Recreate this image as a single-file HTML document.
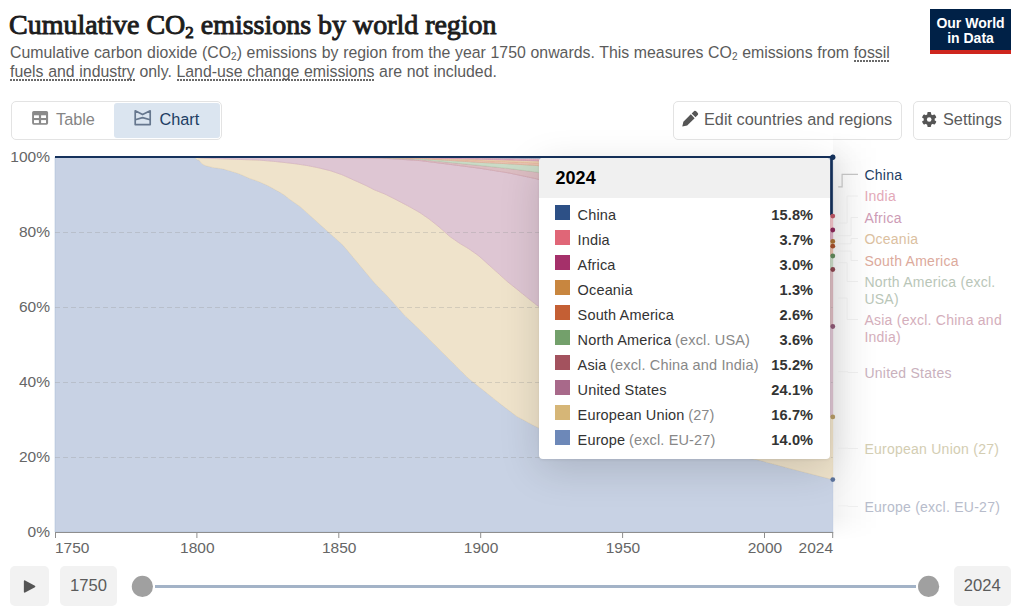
<!DOCTYPE html>
<html><head><meta charset="utf-8">
<style>
*{box-sizing:border-box;margin:0;padding:0}
html,body{width:1020px;height:614px;overflow:hidden;background:#fff}
body{position:relative;font-family:"Liberation Sans",sans-serif;color:#5b5b5b}
.abs{position:absolute;white-space:nowrap}
#title{left:9px;top:8px;font-family:"Liberation Serif",serif;font-weight:400;font-size:28px;line-height:34px;color:#1d1d1d;letter-spacing:-0.02px;-webkit-text-stroke:0.95px #1d1d1d}
#title sub{font-size:17px;vertical-align:-4px;line-height:0}
.sub{left:10px;font-size:15.85px;line-height:18px;color:#5b5b5b;word-spacing:0.3px}
.sub .s2{font-size:10px;vertical-align:-2px;line-height:0}
.dot{background-image:linear-gradient(to right,#6a6a6a 60%,transparent 60%);background-size:3px 2px;background-repeat:repeat-x;background-position:0 100%;padding-bottom:1px}
#logo{left:930px;top:9px;width:81px;height:45px;background:#002147;border-bottom:4px solid #ce261e;color:#fff;font-weight:700;font-size:14px;text-align:center}
#logo div{position:absolute;left:0;width:81px;line-height:15px}
.btn{border:1px solid #e3e3e3;border-radius:5px;background:#fff;height:39px;top:100.5px}
.btxt{font-size:16.3px;color:#5b5b5b;line-height:16px}
.ylab{font-size:15.5px;color:#666;text-align:right;width:50px;left:0px;line-height:16px}
.xlab{font-size:15.5px;color:#666;line-height:16px;width:60px;text-align:center}
#tip{left:539px;top:158.3px;width:291px;height:301px;background:#fff;border-radius:4px;box-shadow:0 10px 40px rgba(0,0,0,0.15),0 1px 3px rgba(0,0,0,0.07);overflow:hidden}
#tiphead{position:absolute;left:0;top:0;width:291px;height:40px;background:#f0f0f0}
.row{position:absolute;left:0;width:291px;height:25px}
.sw{position:absolute;left:16px;top:48px;width:14.6px;height:14.4px}
.nm{position:absolute;left:38.6px;font-size:14.5px;color:#333;line-height:14px;letter-spacing:0.15px}
.nm i{font-style:normal;color:#888;margin-left:-0.5px}
.vl{position:absolute;right:16.8px;font-size:14.6px;font-weight:700;color:#333;line-height:14px;letter-spacing:0.1px}
.lg{left:864.4px;font-size:14px;line-height:17px;letter-spacing:0.25px}
.box{background:#f2f2f2;border-radius:5px}
</style></head><body>
<div class="abs" id="title">Cumulative CO<sub>2</sub> emissions by world region</div>
<div class="abs sub" style="top:44px">Cumulative carbon dioxide (CO<span class="s2">2</span>) emissions by region from the year 1750 onwards. This measures CO<span class="s2">2</span> emissions from <span class="dot">fossil</span></div>
<div class="abs sub" style="top:62.5px"><span class="dot">fuels and industry</span> only. <span class="dot">Land-use change emissions</span> are not included.</div>
<div class="abs" id="logo"><div style="top:6.5px">Our World</div><div style="top:21.5px">in Data</div></div>

<!-- tabs -->
<div class="abs btn" style="left:10.5px;width:211px"></div>
<div class="abs" style="left:114px;top:102.5px;width:106px;height:35px;background:#dbe5f0;border-radius:3px"></div>

<div class="abs btxt" style="left:56px;top:111.2px;color:#858585">Table</div>
<div class="abs btxt" style="left:159.5px;top:111.2px;color:#1d3d63">Chart</div>
<div class="abs btn" style="left:672.5px;width:229.5px"></div>
<div class="abs btxt" style="left:704px;top:111.2px">Edit countries and regions</div>
<div class="abs btn" style="left:912.5px;width:98px"></div>
<div class="abs btxt" style="left:943px;top:111.2px">Settings</div>
<svg class="abs" style="left:0;top:0" width="1020" height="150">
 <rect x="32.1" y="111.1" width="16" height="13.6" rx="1.6" fill="#8a8a8a"/>
 <g fill="#fff"><rect x="34" y="115.3" width="4.9" height="2.7"/><rect x="41.1" y="115.3" width="4.9" height="2.7"/><rect x="34" y="120.1" width="4.9" height="3"/><rect x="41.1" y="120.1" width="4.9" height="3"/></g>
 <g fill="none" stroke="#66778e" stroke-width="1.7" stroke-linejoin="round">
  <path d="M135.2,110.8 L142.6,114.6 L150.2,110.8 L150.2,124.6 L135.2,124.6 Z"/>
  <path d="M135.2,119.8 L142.6,117.6 L150.2,119.8"/>
 </g>
 <!-- pencil -->
 <path d="M682.30,126.60 L687.18,125.56 L694.63,118.16 L690.83,114.33 L683.38,121.72 Z" fill="#555"/>
 <path d="M695.48,117.31 L697.98,114.83 Q698.90,113.92 697.00,112.00 Q695.10,110.08 694.17,111.00 L691.68,113.48 Z" fill="#555"/>
 <!-- gear -->
 <g transform="translate(929.2,119.5)" fill="#555">
  <circle r="5.5"/>
  <g id="teeth"><rect x="-1.9" y="-7.4" width="3.8" height="4" rx="0.9"/></g>
  <use href="#teeth" transform="rotate(60)"/><use href="#teeth" transform="rotate(120)"/>
  <use href="#teeth" transform="rotate(180)"/><use href="#teeth" transform="rotate(240)"/><use href="#teeth" transform="rotate(300)"/>
  <circle r="2.3" fill="#fff"/>
 </g>
</svg>

<div class="abs" style="left:833px;top:132px;width:45px;height:408px;background:linear-gradient(to right,rgba(0,0,0,0.055),rgba(0,0,0,0.02) 45%,rgba(0,0,0,0));-webkit-mask-image:linear-gradient(to bottom,transparent,#000 8%,#000 94%,transparent)"></div>
<!-- chart -->
<svg class="abs" style="left:0;top:0" width="1020" height="614">
<path d="M55.0,157.00 L56.9,157.00 L58.9,157.01 L60.8,157.01 L62.8,157.01 L64.7,157.01 L66.7,157.02 L68.6,157.02 L70.6,157.02 L72.5,157.03 L74.5,157.03 L76.4,157.03 L78.4,157.03 L80.3,157.04 L82.3,157.04 L84.2,157.04 L86.2,157.04 L88.1,157.05 L90.1,157.05 L92.0,157.05 L94.0,157.06 L95.9,157.06 L97.9,157.06 L99.8,157.06 L101.8,157.07 L103.7,157.07 L105.7,157.07 L107.6,157.08 L109.6,157.08 L111.5,157.08 L113.5,157.08 L115.4,157.09 L117.4,157.09 L119.3,157.09 L121.3,157.09 L123.2,157.10 L125.2,157.10 L127.1,157.10 L129.1,157.11 L131.0,157.11 L133.0,157.11 L134.9,157.11 L136.9,157.12 L138.8,157.12 L140.8,157.12 L142.7,157.13 L144.7,157.13 L146.6,157.13 L148.6,157.13 L150.5,157.14 L152.5,157.14 L154.4,157.14 L156.4,157.14 L158.3,157.15 L160.3,157.15 L162.2,157.15 L164.2,157.16 L166.1,157.16 L168.0,157.16 L170.0,157.16 L171.9,157.17 L173.9,157.17 L175.8,157.17 L177.8,157.18 L179.7,157.18 L181.7,157.18 L183.6,157.18 L185.6,157.19 L187.5,157.19 L189.5,157.19 L191.4,157.19 L193.4,157.20 L195.3,157.94 L197.3,159.72 L199.2,160.21 L201.2,162.91 L203.1,164.43 L205.1,165.48 L207.0,166.05 L209.0,166.49 L210.9,166.93 L212.9,167.38 L214.8,167.77 L216.8,168.01 L218.7,168.26 L220.7,168.51 L222.6,168.82 L224.6,169.36 L226.5,169.91 L228.5,170.45 L230.4,171.04 L232.4,171.63 L234.3,172.23 L236.3,172.83 L238.2,173.42 L240.2,174.21 L242.1,175.09 L244.1,175.96 L246.0,176.84 L248.0,177.71 L249.9,178.46 L251.9,179.13 L253.8,179.81 L255.8,180.48 L257.7,181.16 L259.7,181.96 L261.6,182.84 L263.6,183.72 L265.5,184.59 L267.5,185.47 L269.4,186.46 L271.4,187.54 L273.3,188.61 L275.3,189.69 L277.2,190.76 L279.1,191.87 L281.1,193.00 L283.0,194.14 L285.0,195.57 L286.9,197.10 L288.9,198.63 L290.8,200.09 L292.8,201.45 L294.7,202.81 L296.7,204.17 L298.6,205.53 L300.6,206.89 L302.5,208.66 L304.5,210.42 L306.4,212.19 L308.4,213.95 L310.3,215.72 L312.3,217.48 L314.2,219.24 L316.2,221.01 L318.1,222.77 L320.1,224.53 L322.0,226.30 L324.0,228.04 L325.9,229.79 L327.9,231.54 L329.8,233.28 L331.8,235.03 L333.7,236.78 L335.7,238.52 L337.6,240.27 L339.6,242.02 L341.5,243.76 L343.5,245.68 L345.4,248.02 L347.4,250.35 L349.3,252.69 L351.3,255.02 L353.2,257.36 L355.2,259.69 L357.1,262.03 L359.1,264.37 L361.0,266.70 L363.0,269.04 L364.9,271.37 L366.9,273.71 L368.8,276.04 L370.8,278.38 L372.7,280.71 L374.7,283.05 L376.6,285.02 L378.6,286.99 L380.5,288.96 L382.5,290.93 L384.4,292.89 L386.4,294.96 L388.3,297.09 L390.2,299.23 L392.2,301.36 L394.1,303.49 L396.1,305.63 L398.0,307.84 L400.0,310.04 L401.9,312.24 L403.9,314.44 L405.8,316.38 L407.8,318.25 L409.7,320.12 L411.7,321.99 L413.6,323.85 L415.6,325.72 L417.5,327.59 L419.5,329.49 L421.4,331.44 L423.4,333.38 L425.3,335.33 L427.3,337.28 L429.2,339.23 L431.2,341.18 L433.1,343.13 L435.1,345.08 L437.0,347.03 L439.0,348.98 L440.9,350.93 L442.9,352.88 L444.8,354.82 L446.8,356.77 L448.7,358.72 L450.7,360.67 L452.6,362.62 L454.6,364.57 L456.5,366.52 L458.5,368.47 L460.4,370.42 L462.4,372.37 L464.3,374.32 L466.3,376.26 L468.2,378.11 L470.2,379.66 L472.1,381.22 L474.1,382.77 L476.0,384.33 L478.0,385.88 L479.9,387.44 L481.9,388.99 L483.8,390.55 L485.8,392.11 L487.7,393.68 L489.7,395.24 L491.6,396.81 L493.6,398.38 L495.5,399.94 L497.5,401.51 L499.4,403.08 L501.3,404.60 L503.3,406.08 L505.2,407.56 L507.2,409.05 L509.1,410.53 L511.1,412.01 L513.0,413.49 L515.0,414.98 L516.9,416.38 L518.9,417.44 L520.8,418.49 L522.8,419.54 L524.7,420.59 L526.7,421.65 L528.6,422.70 L530.6,423.75 L532.5,424.80 L534.5,425.78 L536.4,426.74 L538.4,427.70 L540.3,428.38 L542.3,428.76 L544.2,429.14 L546.2,429.52 L548.1,429.90 L550.1,430.28 L552.0,430.66 L554.0,431.04 L555.9,431.42 L557.9,431.80 L559.8,432.18 L561.8,432.56 L563.7,432.94 L565.7,433.32 L567.6,433.69 L569.6,434.07 L571.5,434.45 L573.5,434.83 L575.4,435.21 L577.4,435.59 L579.3,435.97 L581.3,436.35 L583.2,436.73 L585.2,437.11 L587.1,437.49 L589.1,437.87 L591.0,438.25 L593.0,438.63 L594.9,439.01 L596.9,439.39 L598.8,439.77 L600.8,440.10 L602.7,440.36 L604.7,440.62 L606.6,440.88 L608.6,441.14 L610.5,441.40 L612.4,441.66 L614.4,441.92 L616.3,442.18 L618.3,442.44 L620.2,442.70 L622.2,442.96 L624.1,443.22 L626.1,443.48 L628.0,443.74 L630.0,444.00 L631.9,444.26 L633.9,444.52 L635.8,444.78 L637.8,445.04 L639.7,445.30 L641.7,445.56 L643.6,445.82 L645.6,446.08 L647.5,446.34 L649.5,446.60 L651.4,446.86 L653.4,447.12 L655.3,447.38 L657.3,447.64 L659.2,447.90 L661.2,448.13 L663.1,448.34 L665.1,448.56 L667.0,448.77 L669.0,448.99 L670.9,449.20 L672.9,449.42 L674.8,449.63 L676.8,449.84 L678.7,450.06 L680.7,450.27 L682.6,450.49 L684.6,450.70 L686.5,450.92 L688.5,451.13 L690.4,451.35 L692.4,451.56 L694.3,451.77 L696.3,451.99 L698.2,452.20 L700.2,452.42 L702.1,452.63 L704.1,452.85 L706.0,453.06 L708.0,453.28 L709.9,453.49 L711.9,453.74 L713.8,453.99 L715.8,454.25 L717.7,454.50 L719.7,454.75 L721.6,455.01 L723.5,455.26 L725.5,455.51 L727.4,455.76 L729.4,456.02 L731.3,456.27 L733.3,456.52 L735.2,456.78 L737.2,457.03 L739.1,457.28 L741.1,457.54 L743.0,457.79 L745.0,458.04 L746.9,458.29 L748.9,458.55 L750.8,458.80 L752.8,459.05 L754.7,459.31 L756.7,459.56 L758.6,460.04 L760.6,460.57 L762.5,461.09 L764.5,461.62 L766.4,462.14 L768.4,462.67 L770.3,463.19 L772.3,463.72 L774.2,464.24 L776.2,464.77 L778.1,465.29 L780.1,465.82 L782.0,466.34 L784.0,466.87 L785.9,467.39 L787.9,467.92 L789.8,468.44 L791.8,468.96 L793.7,469.46 L795.7,469.97 L797.6,470.48 L799.6,470.98 L801.5,471.49 L803.5,472.00 L805.4,472.50 L807.4,473.01 L809.3,473.52 L811.3,474.02 L813.2,474.53 L815.2,475.04 L817.1,475.55 L819.1,476.05 L821.0,476.56 L823.0,477.07 L824.9,477.57 L826.9,478.08 L828.8,478.59 L830.8,479.09 L832.7,479.60 L832.7,532.00 L830.8,532.00 L828.8,532.00 L826.9,532.00 L824.9,532.00 L823.0,532.00 L821.0,532.00 L819.1,532.00 L817.1,532.00 L815.2,532.00 L813.2,532.00 L811.3,532.00 L809.3,532.00 L807.4,532.00 L805.4,532.00 L803.5,532.00 L801.5,532.00 L799.6,532.00 L797.6,532.00 L795.7,532.00 L793.7,532.00 L791.8,532.00 L789.8,532.00 L787.9,532.00 L785.9,532.00 L784.0,532.00 L782.0,532.00 L780.1,532.00 L778.1,532.00 L776.2,532.00 L774.2,532.00 L772.3,532.00 L770.3,532.00 L768.4,532.00 L766.4,532.00 L764.5,532.00 L762.5,532.00 L760.6,532.00 L758.6,532.00 L756.7,532.00 L754.7,532.00 L752.8,532.00 L750.8,532.00 L748.9,532.00 L746.9,532.00 L745.0,532.00 L743.0,532.00 L741.1,532.00 L739.1,532.00 L737.2,532.00 L735.2,532.00 L733.3,532.00 L731.3,532.00 L729.4,532.00 L727.4,532.00 L725.5,532.00 L723.5,532.00 L721.6,532.00 L719.7,532.00 L717.7,532.00 L715.8,532.00 L713.8,532.00 L711.9,532.00 L709.9,532.00 L708.0,532.00 L706.0,532.00 L704.1,532.00 L702.1,532.00 L700.2,532.00 L698.2,532.00 L696.3,532.00 L694.3,532.00 L692.4,532.00 L690.4,532.00 L688.5,532.00 L686.5,532.00 L684.6,532.00 L682.6,532.00 L680.7,532.00 L678.7,532.00 L676.8,532.00 L674.8,532.00 L672.9,532.00 L670.9,532.00 L669.0,532.00 L667.0,532.00 L665.1,532.00 L663.1,532.00 L661.2,532.00 L659.2,532.00 L657.3,532.00 L655.3,532.00 L653.4,532.00 L651.4,532.00 L649.5,532.00 L647.5,532.00 L645.6,532.00 L643.6,532.00 L641.7,532.00 L639.7,532.00 L637.8,532.00 L635.8,532.00 L633.9,532.00 L631.9,532.00 L630.0,532.00 L628.0,532.00 L626.1,532.00 L624.1,532.00 L622.2,532.00 L620.2,532.00 L618.3,532.00 L616.3,532.00 L614.4,532.00 L612.4,532.00 L610.5,532.00 L608.6,532.00 L606.6,532.00 L604.7,532.00 L602.7,532.00 L600.8,532.00 L598.8,532.00 L596.9,532.00 L594.9,532.00 L593.0,532.00 L591.0,532.00 L589.1,532.00 L587.1,532.00 L585.2,532.00 L583.2,532.00 L581.3,532.00 L579.3,532.00 L577.4,532.00 L575.4,532.00 L573.5,532.00 L571.5,532.00 L569.6,532.00 L567.6,532.00 L565.7,532.00 L563.7,532.00 L561.8,532.00 L559.8,532.00 L557.9,532.00 L555.9,532.00 L554.0,532.00 L552.0,532.00 L550.1,532.00 L548.1,532.00 L546.2,532.00 L544.2,532.00 L542.3,532.00 L540.3,532.00 L538.4,532.00 L536.4,532.00 L534.5,532.00 L532.5,532.00 L530.6,532.00 L528.6,532.00 L526.7,532.00 L524.7,532.00 L522.8,532.00 L520.8,532.00 L518.9,532.00 L516.9,532.00 L515.0,532.00 L513.0,532.00 L511.1,532.00 L509.1,532.00 L507.2,532.00 L505.2,532.00 L503.3,532.00 L501.3,532.00 L499.4,532.00 L497.5,532.00 L495.5,532.00 L493.6,532.00 L491.6,532.00 L489.7,532.00 L487.7,532.00 L485.8,532.00 L483.8,532.00 L481.9,532.00 L479.9,532.00 L478.0,532.00 L476.0,532.00 L474.1,532.00 L472.1,532.00 L470.2,532.00 L468.2,532.00 L466.3,532.00 L464.3,532.00 L462.4,532.00 L460.4,532.00 L458.5,532.00 L456.5,532.00 L454.6,532.00 L452.6,532.00 L450.7,532.00 L448.7,532.00 L446.8,532.00 L444.8,532.00 L442.9,532.00 L440.9,532.00 L439.0,532.00 L437.0,532.00 L435.1,532.00 L433.1,532.00 L431.2,532.00 L429.2,532.00 L427.3,532.00 L425.3,532.00 L423.4,532.00 L421.4,532.00 L419.5,532.00 L417.5,532.00 L415.6,532.00 L413.6,532.00 L411.7,532.00 L409.7,532.00 L407.8,532.00 L405.8,532.00 L403.9,532.00 L401.9,532.00 L400.0,532.00 L398.0,532.00 L396.1,532.00 L394.1,532.00 L392.2,532.00 L390.2,532.00 L388.3,532.00 L386.4,532.00 L384.4,532.00 L382.5,532.00 L380.5,532.00 L378.6,532.00 L376.6,532.00 L374.7,532.00 L372.7,532.00 L370.8,532.00 L368.8,532.00 L366.9,532.00 L364.9,532.00 L363.0,532.00 L361.0,532.00 L359.1,532.00 L357.1,532.00 L355.2,532.00 L353.2,532.00 L351.3,532.00 L349.3,532.00 L347.4,532.00 L345.4,532.00 L343.5,532.00 L341.5,532.00 L339.6,532.00 L337.6,532.00 L335.7,532.00 L333.7,532.00 L331.8,532.00 L329.8,532.00 L327.9,532.00 L325.9,532.00 L324.0,532.00 L322.0,532.00 L320.1,532.00 L318.1,532.00 L316.2,532.00 L314.2,532.00 L312.3,532.00 L310.3,532.00 L308.4,532.00 L306.4,532.00 L304.5,532.00 L302.5,532.00 L300.6,532.00 L298.6,532.00 L296.7,532.00 L294.7,532.00 L292.8,532.00 L290.8,532.00 L288.9,532.00 L286.9,532.00 L285.0,532.00 L283.0,532.00 L281.1,532.00 L279.1,532.00 L277.2,532.00 L275.3,532.00 L273.3,532.00 L271.4,532.00 L269.4,532.00 L267.5,532.00 L265.5,532.00 L263.6,532.00 L261.6,532.00 L259.7,532.00 L257.7,532.00 L255.8,532.00 L253.8,532.00 L251.9,532.00 L249.9,532.00 L248.0,532.00 L246.0,532.00 L244.1,532.00 L242.1,532.00 L240.2,532.00 L238.2,532.00 L236.3,532.00 L234.3,532.00 L232.4,532.00 L230.4,532.00 L228.5,532.00 L226.5,532.00 L224.6,532.00 L222.6,532.00 L220.7,532.00 L218.7,532.00 L216.8,532.00 L214.8,532.00 L212.9,532.00 L210.9,532.00 L209.0,532.00 L207.0,532.00 L205.1,532.00 L203.1,532.00 L201.2,532.00 L199.2,532.00 L197.3,532.00 L195.3,532.00 L193.4,532.00 L191.4,532.00 L189.5,532.00 L187.5,532.00 L185.6,532.00 L183.6,532.00 L181.7,532.00 L179.7,532.00 L177.8,532.00 L175.8,532.00 L173.9,532.00 L171.9,532.00 L170.0,532.00 L168.0,532.00 L166.1,532.00 L164.2,532.00 L162.2,532.00 L160.3,532.00 L158.3,532.00 L156.4,532.00 L154.4,532.00 L152.5,532.00 L150.5,532.00 L148.6,532.00 L146.6,532.00 L144.7,532.00 L142.7,532.00 L140.8,532.00 L138.8,532.00 L136.9,532.00 L134.9,532.00 L133.0,532.00 L131.0,532.00 L129.1,532.00 L127.1,532.00 L125.2,532.00 L123.2,532.00 L121.3,532.00 L119.3,532.00 L117.4,532.00 L115.4,532.00 L113.5,532.00 L111.5,532.00 L109.6,532.00 L107.6,532.00 L105.7,532.00 L103.7,532.00 L101.8,532.00 L99.8,532.00 L97.9,532.00 L95.9,532.00 L94.0,532.00 L92.0,532.00 L90.1,532.00 L88.1,532.00 L86.2,532.00 L84.2,532.00 L82.3,532.00 L80.3,532.00 L78.4,532.00 L76.4,532.00 L74.5,532.00 L72.5,532.00 L70.6,532.00 L68.6,532.00 L66.7,532.00 L64.7,532.00 L62.8,532.00 L60.8,532.00 L58.9,532.00 L56.9,532.00 L55.0,532.00 Z" fill="#c8d2e4" stroke="#a7b8d4" stroke-width="0.5"/>
<path d="M55.0,157.00 L56.9,157.00 L58.9,157.00 L60.8,157.00 L62.8,157.01 L64.7,157.01 L66.7,157.01 L68.6,157.01 L70.6,157.01 L72.5,157.01 L74.5,157.01 L76.4,157.02 L78.4,157.02 L80.3,157.02 L82.3,157.02 L84.2,157.02 L86.2,157.02 L88.1,157.02 L90.1,157.03 L92.0,157.03 L94.0,157.03 L95.9,157.03 L97.9,157.03 L99.8,157.03 L101.8,157.03 L103.7,157.03 L105.7,157.04 L107.6,157.04 L109.6,157.04 L111.5,157.04 L113.5,157.04 L115.4,157.04 L117.4,157.04 L119.3,157.05 L121.3,157.05 L123.2,157.05 L125.2,157.05 L127.1,157.05 L129.1,157.05 L131.0,157.05 L133.0,157.06 L134.9,157.06 L136.9,157.06 L138.8,157.06 L140.8,157.06 L142.7,157.06 L144.7,157.06 L146.6,157.07 L148.6,157.07 L150.5,157.07 L152.5,157.07 L154.4,157.07 L156.4,157.07 L158.3,157.07 L160.3,157.08 L162.2,157.08 L164.2,157.08 L166.1,157.08 L168.0,157.08 L170.0,157.08 L171.9,157.08 L173.9,157.08 L175.8,157.09 L177.8,157.09 L179.7,157.09 L181.7,157.09 L183.6,157.09 L185.6,157.09 L187.5,157.09 L189.5,157.10 L191.4,157.10 L193.4,157.10 L195.3,157.16 L197.3,157.51 L199.2,157.86 L201.2,158.04 L203.1,158.11 L205.1,158.19 L207.0,158.26 L209.0,158.33 L210.9,158.40 L212.9,158.47 L214.8,158.54 L216.8,158.62 L218.7,158.69 L220.7,158.76 L222.6,158.83 L224.6,158.90 L226.5,158.97 L228.5,159.04 L230.4,159.12 L232.4,159.19 L234.3,159.26 L236.3,159.33 L238.2,159.40 L240.2,159.47 L242.1,159.54 L244.1,159.62 L246.0,159.69 L248.0,159.76 L249.9,159.83 L251.9,159.90 L253.8,159.97 L255.8,160.04 L257.7,160.12 L259.7,160.19 L261.6,160.34 L263.6,160.50 L265.5,160.67 L267.5,160.83 L269.4,161.00 L271.4,161.16 L273.3,161.35 L275.3,161.55 L277.2,161.75 L279.1,161.95 L281.1,162.15 L283.0,162.35 L285.0,162.58 L286.9,162.81 L288.9,163.04 L290.8,163.27 L292.8,163.50 L294.7,163.73 L296.7,164.00 L298.6,164.29 L300.6,164.57 L302.5,164.85 L304.5,165.13 L306.4,165.42 L308.4,165.78 L310.3,166.18 L312.3,166.57 L314.2,166.97 L316.2,167.37 L318.1,167.76 L320.1,168.21 L322.0,168.69 L324.0,169.17 L325.9,169.65 L327.9,170.13 L329.8,170.61 L331.8,171.21 L333.7,171.89 L335.7,172.56 L337.6,173.24 L339.6,173.92 L341.5,174.59 L343.5,175.38 L345.4,176.27 L347.4,177.15 L349.3,178.03 L351.3,178.92 L353.2,179.80 L355.2,180.68 L357.1,181.55 L359.1,182.43 L361.0,183.30 L363.0,184.18 L364.9,185.06 L366.9,185.99 L368.8,186.99 L370.8,187.98 L372.7,188.98 L374.7,189.98 L376.6,190.76 L378.6,191.54 L380.5,192.32 L382.5,193.10 L384.4,193.88 L386.4,194.78 L388.3,195.75 L390.2,196.72 L392.2,197.70 L394.1,198.67 L396.1,199.66 L398.0,200.69 L400.0,201.72 L401.9,202.74 L403.9,203.77 L405.8,204.80 L407.8,205.83 L409.7,206.86 L411.7,207.96 L413.6,209.07 L415.6,210.19 L417.5,211.30 L419.5,212.41 L421.4,213.70 L423.4,215.05 L425.3,216.40 L427.3,217.75 L429.2,219.11 L431.2,220.61 L433.1,222.18 L435.1,223.74 L437.0,225.31 L439.0,226.88 L440.9,228.58 L442.9,230.33 L444.8,232.08 L446.8,233.83 L448.7,235.58 L450.7,237.07 L452.6,238.44 L454.6,239.81 L456.5,241.18 L458.5,242.56 L460.4,243.79 L462.4,244.95 L464.3,246.12 L466.3,247.28 L468.2,248.45 L470.2,249.76 L472.1,251.13 L474.1,252.50 L476.0,253.88 L478.0,255.25 L479.9,256.88 L481.9,258.63 L483.8,260.38 L485.8,262.13 L487.7,263.88 L489.7,265.63 L491.6,267.37 L493.6,269.12 L495.5,270.87 L497.5,272.62 L499.4,274.37 L501.3,276.12 L503.3,277.87 L505.2,279.62 L507.2,281.37 L509.1,282.99 L511.1,284.54 L513.0,286.09 L515.0,287.65 L516.9,289.20 L518.9,290.77 L520.8,292.36 L522.8,293.95 L524.7,295.53 L526.7,297.12 L528.6,298.68 L530.6,300.24 L532.5,301.79 L534.5,303.34 L536.4,304.89 L538.4,306.24 L540.3,307.47 L542.3,308.70 L544.2,309.92 L546.2,311.15 L548.1,312.37 L550.1,313.60 L552.0,314.83 L554.0,316.05 L555.9,317.28 L557.9,318.50 L559.8,319.73 L561.8,320.96 L563.7,322.18 L565.7,323.41 L567.6,324.63 L569.6,325.86 L571.5,327.09 L573.5,328.31 L575.4,329.54 L577.4,330.76 L579.3,331.99 L581.3,333.21 L583.2,334.44 L585.2,335.67 L587.1,336.89 L589.1,338.12 L591.0,339.34 L593.0,340.57 L594.9,341.80 L596.9,343.02 L598.8,344.25 L600.8,345.31 L602.7,346.12 L604.7,346.92 L606.6,347.72 L608.6,348.53 L610.5,349.33 L612.4,350.14 L614.4,350.94 L616.3,351.74 L618.3,352.55 L620.2,353.35 L622.2,354.16 L624.1,354.96 L626.1,355.76 L628.0,356.57 L630.0,357.37 L631.9,358.18 L633.9,358.98 L635.8,359.78 L637.8,360.59 L639.7,361.39 L641.7,362.20 L643.6,363.00 L645.6,363.80 L647.5,364.61 L649.5,365.41 L651.4,366.22 L653.4,367.02 L655.3,367.82 L657.3,368.63 L659.2,369.43 L661.2,370.24 L663.1,371.04 L665.1,371.84 L667.0,372.65 L669.0,373.45 L670.9,374.26 L672.9,375.06 L674.8,375.86 L676.8,376.67 L678.7,377.47 L680.7,378.20 L682.6,378.79 L684.6,379.37 L686.5,379.95 L688.5,380.54 L690.4,381.12 L692.4,381.71 L694.3,382.29 L696.3,382.88 L698.2,383.46 L700.2,384.05 L702.1,384.63 L704.1,385.22 L706.0,385.80 L708.0,386.39 L709.9,386.97 L711.9,387.56 L713.8,388.14 L715.8,388.73 L717.7,389.31 L719.7,389.90 L721.6,390.48 L723.5,391.06 L725.5,391.65 L727.4,392.23 L729.4,392.82 L731.3,393.40 L733.3,393.99 L735.2,394.57 L737.2,395.16 L739.1,395.74 L741.1,396.33 L743.0,396.91 L745.0,397.50 L746.9,398.08 L748.9,398.67 L750.8,399.25 L752.8,399.84 L754.7,400.42 L756.7,401.01 L758.6,401.59 L760.6,402.12 L762.5,402.52 L764.5,402.92 L766.4,403.32 L768.4,403.72 L770.3,404.12 L772.3,404.52 L774.2,404.92 L776.2,405.32 L778.1,405.71 L780.1,406.11 L782.0,406.51 L784.0,406.91 L785.9,407.31 L787.9,407.71 L789.8,408.11 L791.8,408.51 L793.7,408.91 L795.7,409.31 L797.6,409.71 L799.6,410.11 L801.5,410.51 L803.5,410.91 L805.4,411.31 L807.4,411.71 L809.3,412.11 L811.3,412.51 L813.2,412.91 L815.2,413.30 L817.1,413.70 L819.1,414.10 L821.0,414.50 L823.0,414.90 L824.9,415.30 L826.9,415.70 L828.8,416.10 L830.8,416.50 L832.7,416.90 L832.7,479.60 L830.8,479.09 L828.8,478.59 L826.9,478.08 L824.9,477.57 L823.0,477.07 L821.0,476.56 L819.1,476.05 L817.1,475.55 L815.2,475.04 L813.2,474.53 L811.3,474.02 L809.3,473.52 L807.4,473.01 L805.4,472.50 L803.5,472.00 L801.5,471.49 L799.6,470.98 L797.6,470.48 L795.7,469.97 L793.7,469.46 L791.8,468.96 L789.8,468.44 L787.9,467.92 L785.9,467.39 L784.0,466.87 L782.0,466.34 L780.1,465.82 L778.1,465.29 L776.2,464.77 L774.2,464.24 L772.3,463.72 L770.3,463.19 L768.4,462.67 L766.4,462.14 L764.5,461.62 L762.5,461.09 L760.6,460.57 L758.6,460.04 L756.7,459.56 L754.7,459.31 L752.8,459.05 L750.8,458.80 L748.9,458.55 L746.9,458.29 L745.0,458.04 L743.0,457.79 L741.1,457.54 L739.1,457.28 L737.2,457.03 L735.2,456.78 L733.3,456.52 L731.3,456.27 L729.4,456.02 L727.4,455.76 L725.5,455.51 L723.5,455.26 L721.6,455.01 L719.7,454.75 L717.7,454.50 L715.8,454.25 L713.8,453.99 L711.9,453.74 L709.9,453.49 L708.0,453.28 L706.0,453.06 L704.1,452.85 L702.1,452.63 L700.2,452.42 L698.2,452.20 L696.3,451.99 L694.3,451.77 L692.4,451.56 L690.4,451.35 L688.5,451.13 L686.5,450.92 L684.6,450.70 L682.6,450.49 L680.7,450.27 L678.7,450.06 L676.8,449.84 L674.8,449.63 L672.9,449.42 L670.9,449.20 L669.0,448.99 L667.0,448.77 L665.1,448.56 L663.1,448.34 L661.2,448.13 L659.2,447.90 L657.3,447.64 L655.3,447.38 L653.4,447.12 L651.4,446.86 L649.5,446.60 L647.5,446.34 L645.6,446.08 L643.6,445.82 L641.7,445.56 L639.7,445.30 L637.8,445.04 L635.8,444.78 L633.9,444.52 L631.9,444.26 L630.0,444.00 L628.0,443.74 L626.1,443.48 L624.1,443.22 L622.2,442.96 L620.2,442.70 L618.3,442.44 L616.3,442.18 L614.4,441.92 L612.4,441.66 L610.5,441.40 L608.6,441.14 L606.6,440.88 L604.7,440.62 L602.7,440.36 L600.8,440.10 L598.8,439.77 L596.9,439.39 L594.9,439.01 L593.0,438.63 L591.0,438.25 L589.1,437.87 L587.1,437.49 L585.2,437.11 L583.2,436.73 L581.3,436.35 L579.3,435.97 L577.4,435.59 L575.4,435.21 L573.5,434.83 L571.5,434.45 L569.6,434.07 L567.6,433.69 L565.7,433.32 L563.7,432.94 L561.8,432.56 L559.8,432.18 L557.9,431.80 L555.9,431.42 L554.0,431.04 L552.0,430.66 L550.1,430.28 L548.1,429.90 L546.2,429.52 L544.2,429.14 L542.3,428.76 L540.3,428.38 L538.4,427.70 L536.4,426.74 L534.5,425.78 L532.5,424.80 L530.6,423.75 L528.6,422.70 L526.7,421.65 L524.7,420.59 L522.8,419.54 L520.8,418.49 L518.9,417.44 L516.9,416.38 L515.0,414.98 L513.0,413.49 L511.1,412.01 L509.1,410.53 L507.2,409.05 L505.2,407.56 L503.3,406.08 L501.3,404.60 L499.4,403.08 L497.5,401.51 L495.5,399.94 L493.6,398.38 L491.6,396.81 L489.7,395.24 L487.7,393.68 L485.8,392.11 L483.8,390.55 L481.9,388.99 L479.9,387.44 L478.0,385.88 L476.0,384.33 L474.1,382.77 L472.1,381.22 L470.2,379.66 L468.2,378.11 L466.3,376.26 L464.3,374.32 L462.4,372.37 L460.4,370.42 L458.5,368.47 L456.5,366.52 L454.6,364.57 L452.6,362.62 L450.7,360.67 L448.7,358.72 L446.8,356.77 L444.8,354.82 L442.9,352.88 L440.9,350.93 L439.0,348.98 L437.0,347.03 L435.1,345.08 L433.1,343.13 L431.2,341.18 L429.2,339.23 L427.3,337.28 L425.3,335.33 L423.4,333.38 L421.4,331.44 L419.5,329.49 L417.5,327.59 L415.6,325.72 L413.6,323.85 L411.7,321.99 L409.7,320.12 L407.8,318.25 L405.8,316.38 L403.9,314.44 L401.9,312.24 L400.0,310.04 L398.0,307.84 L396.1,305.63 L394.1,303.49 L392.2,301.36 L390.2,299.23 L388.3,297.09 L386.4,294.96 L384.4,292.89 L382.5,290.93 L380.5,288.96 L378.6,286.99 L376.6,285.02 L374.7,283.05 L372.7,280.71 L370.8,278.38 L368.8,276.04 L366.9,273.71 L364.9,271.37 L363.0,269.04 L361.0,266.70 L359.1,264.37 L357.1,262.03 L355.2,259.69 L353.2,257.36 L351.3,255.02 L349.3,252.69 L347.4,250.35 L345.4,248.02 L343.5,245.68 L341.5,243.76 L339.6,242.02 L337.6,240.27 L335.7,238.52 L333.7,236.78 L331.8,235.03 L329.8,233.28 L327.9,231.54 L325.9,229.79 L324.0,228.04 L322.0,226.30 L320.1,224.53 L318.1,222.77 L316.2,221.01 L314.2,219.24 L312.3,217.48 L310.3,215.72 L308.4,213.95 L306.4,212.19 L304.5,210.42 L302.5,208.66 L300.6,206.89 L298.6,205.53 L296.7,204.17 L294.7,202.81 L292.8,201.45 L290.8,200.09 L288.9,198.63 L286.9,197.10 L285.0,195.57 L283.0,194.14 L281.1,193.00 L279.1,191.87 L277.2,190.76 L275.3,189.69 L273.3,188.61 L271.4,187.54 L269.4,186.46 L267.5,185.47 L265.5,184.59 L263.6,183.72 L261.6,182.84 L259.7,181.96 L257.7,181.16 L255.8,180.48 L253.8,179.81 L251.9,179.13 L249.9,178.46 L248.0,177.71 L246.0,176.84 L244.1,175.96 L242.1,175.09 L240.2,174.21 L238.2,173.42 L236.3,172.83 L234.3,172.23 L232.4,171.63 L230.4,171.04 L228.5,170.45 L226.5,169.91 L224.6,169.36 L222.6,168.82 L220.7,168.51 L218.7,168.26 L216.8,168.01 L214.8,167.77 L212.9,167.38 L210.9,166.93 L209.0,166.49 L207.0,166.05 L205.1,165.48 L203.1,164.43 L201.2,162.91 L199.2,160.21 L197.3,159.72 L195.3,157.94 L193.4,157.20 L191.4,157.19 L189.5,157.19 L187.5,157.19 L185.6,157.19 L183.6,157.18 L181.7,157.18 L179.7,157.18 L177.8,157.18 L175.8,157.17 L173.9,157.17 L171.9,157.17 L170.0,157.16 L168.0,157.16 L166.1,157.16 L164.2,157.16 L162.2,157.15 L160.3,157.15 L158.3,157.15 L156.4,157.14 L154.4,157.14 L152.5,157.14 L150.5,157.14 L148.6,157.13 L146.6,157.13 L144.7,157.13 L142.7,157.13 L140.8,157.12 L138.8,157.12 L136.9,157.12 L134.9,157.11 L133.0,157.11 L131.0,157.11 L129.1,157.11 L127.1,157.10 L125.2,157.10 L123.2,157.10 L121.3,157.09 L119.3,157.09 L117.4,157.09 L115.4,157.09 L113.5,157.08 L111.5,157.08 L109.6,157.08 L107.6,157.08 L105.7,157.07 L103.7,157.07 L101.8,157.07 L99.8,157.06 L97.9,157.06 L95.9,157.06 L94.0,157.06 L92.0,157.05 L90.1,157.05 L88.1,157.05 L86.2,157.04 L84.2,157.04 L82.3,157.04 L80.3,157.04 L78.4,157.03 L76.4,157.03 L74.5,157.03 L72.5,157.03 L70.6,157.02 L68.6,157.02 L66.7,157.02 L64.7,157.01 L62.8,157.01 L60.8,157.01 L58.9,157.01 L56.9,157.00 L55.0,157.00 Z" fill="#efe3cb" stroke="#e6d3ad" stroke-width="0.5"/>
<path d="M55.0,157.00 L56.9,157.00 L58.9,157.00 L60.8,157.00 L62.8,157.00 L64.7,157.00 L66.7,157.00 L68.6,157.01 L70.6,157.01 L72.5,157.01 L74.5,157.01 L76.4,157.01 L78.4,157.01 L80.3,157.01 L82.3,157.01 L84.2,157.01 L86.2,157.01 L88.1,157.01 L90.1,157.01 L92.0,157.02 L94.0,157.02 L95.9,157.02 L97.9,157.02 L99.8,157.02 L101.8,157.02 L103.7,157.02 L105.7,157.02 L107.6,157.02 L109.6,157.02 L111.5,157.02 L113.5,157.02 L115.4,157.02 L117.4,157.03 L119.3,157.03 L121.3,157.03 L123.2,157.03 L125.2,157.03 L127.1,157.03 L129.1,157.03 L131.0,157.03 L133.0,157.03 L134.9,157.03 L136.9,157.03 L138.8,157.03 L140.8,157.04 L142.7,157.04 L144.7,157.04 L146.6,157.04 L148.6,157.04 L150.5,157.04 L152.5,157.04 L154.4,157.04 L156.4,157.04 L158.3,157.04 L160.3,157.04 L162.2,157.04 L164.2,157.04 L166.1,157.05 L168.0,157.05 L170.0,157.05 L171.9,157.05 L173.9,157.05 L175.8,157.05 L177.8,157.05 L179.7,157.05 L181.7,157.05 L183.6,157.05 L185.6,157.05 L187.5,157.05 L189.5,157.05 L191.4,157.06 L193.4,157.06 L195.3,157.06 L197.3,157.06 L199.2,157.06 L201.2,157.06 L203.1,157.06 L205.1,157.06 L207.0,157.06 L209.0,157.06 L210.9,157.06 L212.9,157.06 L214.8,157.07 L216.8,157.07 L218.7,157.07 L220.7,157.07 L222.6,157.07 L224.6,157.07 L226.5,157.07 L228.5,157.07 L230.4,157.07 L232.4,157.07 L234.3,157.07 L236.3,157.07 L238.2,157.07 L240.2,157.08 L242.1,157.08 L244.1,157.08 L246.0,157.08 L248.0,157.08 L249.9,157.08 L251.9,157.08 L253.8,157.08 L255.8,157.08 L257.7,157.08 L259.7,157.08 L261.6,157.08 L263.6,157.09 L265.5,157.09 L267.5,157.09 L269.4,157.09 L271.4,157.09 L273.3,157.09 L275.3,157.09 L277.2,157.09 L279.1,157.09 L281.1,157.09 L283.0,157.09 L285.0,157.09 L286.9,157.09 L288.9,157.10 L290.8,157.10 L292.8,157.10 L294.7,157.10 L296.7,157.10 L298.6,157.10 L300.6,157.11 L302.5,157.13 L304.5,157.15 L306.4,157.17 L308.4,157.19 L310.3,157.22 L312.3,157.24 L314.2,157.26 L316.2,157.28 L318.1,157.30 L320.1,157.33 L322.0,157.35 L324.0,157.37 L325.9,157.39 L327.9,157.41 L329.8,157.44 L331.8,157.46 L333.7,157.48 L335.7,157.50 L337.6,157.52 L339.6,157.55 L341.5,157.57 L343.5,157.59 L345.4,157.61 L347.4,157.63 L349.3,157.65 L351.3,157.68 L353.2,157.70 L355.2,157.72 L357.1,157.74 L359.1,157.76 L361.0,157.79 L363.0,157.81 L364.9,157.83 L366.9,157.85 L368.8,157.87 L370.8,157.90 L372.7,157.92 L374.7,157.94 L376.6,157.96 L378.6,157.98 L380.5,158.03 L382.5,158.16 L384.4,158.29 L386.4,158.41 L388.3,158.54 L390.2,158.67 L392.2,158.79 L394.1,158.92 L396.1,159.05 L398.0,159.17 L400.0,159.30 L401.9,159.43 L403.9,159.55 L405.8,159.68 L407.8,159.81 L409.7,159.93 L411.7,160.06 L413.6,160.19 L415.6,160.31 L417.5,160.44 L419.5,160.57 L421.4,160.78 L423.4,161.03 L425.3,161.28 L427.3,161.52 L429.2,161.77 L431.2,162.02 L433.1,162.26 L435.1,162.51 L437.0,162.76 L439.0,163.00 L440.9,163.25 L442.9,163.50 L444.8,163.74 L446.8,163.99 L448.7,164.24 L450.7,164.49 L452.6,164.74 L454.6,164.99 L456.5,165.25 L458.5,165.50 L460.4,165.75 L462.4,166.01 L464.3,166.26 L466.3,166.51 L468.2,166.77 L470.2,167.02 L472.1,167.27 L474.1,167.53 L476.0,167.78 L478.0,168.03 L479.9,168.29 L481.9,168.60 L483.8,168.91 L485.8,169.22 L487.7,169.53 L489.7,169.85 L491.6,170.16 L493.6,170.47 L495.5,170.78 L497.5,171.10 L499.4,171.41 L501.3,171.72 L503.3,172.03 L505.2,172.35 L507.2,172.66 L509.1,173.00 L511.1,173.41 L513.0,173.83 L515.0,174.24 L516.9,174.66 L518.9,175.07 L520.8,175.49 L522.8,175.91 L524.7,176.32 L526.7,176.74 L528.6,177.15 L530.6,177.57 L532.5,177.98 L534.5,178.40 L536.4,178.82 L538.4,179.45 L540.3,180.26 L542.3,181.07 L544.2,181.87 L546.2,182.68 L548.1,183.49 L550.1,184.30 L552.0,185.11 L554.0,185.91 L555.9,186.72 L557.9,187.53 L559.8,188.34 L561.8,189.15 L563.7,189.96 L565.7,190.76 L567.6,191.57 L569.6,192.38 L571.5,193.19 L573.5,194.00 L575.4,194.81 L577.4,195.61 L579.3,196.42 L581.3,197.23 L583.2,198.04 L585.2,198.85 L587.1,199.66 L589.1,200.46 L591.0,201.27 L593.0,202.08 L594.9,202.89 L596.9,203.70 L598.8,204.50 L600.8,205.41 L602.7,206.49 L604.7,207.56 L606.6,208.63 L608.6,209.70 L610.5,210.78 L612.4,211.85 L614.4,212.92 L616.3,213.99 L618.3,215.06 L620.2,216.14 L622.2,217.21 L624.1,218.28 L626.1,219.35 L628.0,220.42 L630.0,221.50 L631.9,222.57 L633.9,223.64 L635.8,224.71 L637.8,225.78 L639.7,226.86 L641.7,227.93 L643.6,229.00 L645.6,230.07 L647.5,231.14 L649.5,232.22 L651.4,233.29 L653.4,234.36 L655.3,235.43 L657.3,236.50 L659.2,237.58 L661.2,238.65 L663.1,239.72 L665.1,240.79 L667.0,241.86 L669.0,242.94 L670.9,244.01 L672.9,245.08 L674.8,246.15 L676.8,247.22 L678.7,248.30 L680.7,249.37 L682.6,250.44 L684.6,251.51 L686.5,252.58 L688.5,253.66 L690.4,254.73 L692.4,255.80 L694.3,256.87 L696.3,257.94 L698.2,259.02 L700.2,260.09 L702.1,261.19 L704.1,262.28 L706.0,263.38 L708.0,264.48 L709.9,265.57 L711.9,266.67 L713.8,267.76 L715.8,268.86 L717.7,269.96 L719.7,271.05 L721.6,272.15 L723.5,273.25 L725.5,274.34 L727.4,275.44 L729.4,276.54 L731.3,277.63 L733.3,278.73 L735.2,279.82 L737.2,280.92 L739.1,282.02 L741.1,283.11 L743.0,284.21 L745.0,285.31 L746.9,286.40 L748.9,287.50 L750.8,288.60 L752.8,289.69 L754.7,290.79 L756.7,291.88 L758.6,292.98 L760.6,294.08 L762.5,295.17 L764.5,296.27 L766.4,297.37 L768.4,298.46 L770.3,299.56 L772.3,300.66 L774.2,301.75 L776.2,302.85 L778.1,303.95 L780.1,305.03 L782.0,305.83 L784.0,306.62 L785.9,307.42 L787.9,308.21 L789.8,309.01 L791.8,309.80 L793.7,310.60 L795.7,311.39 L797.6,312.19 L799.6,312.98 L801.5,313.78 L803.5,314.57 L805.4,315.37 L807.4,316.16 L809.3,316.96 L811.3,317.75 L813.2,318.55 L815.2,319.34 L817.1,320.14 L819.1,320.93 L821.0,321.73 L823.0,322.52 L824.9,323.32 L826.9,324.11 L828.8,324.91 L830.8,325.70 L832.7,326.50 L832.7,416.90 L830.8,416.50 L828.8,416.10 L826.9,415.70 L824.9,415.30 L823.0,414.90 L821.0,414.50 L819.1,414.10 L817.1,413.70 L815.2,413.30 L813.2,412.91 L811.3,412.51 L809.3,412.11 L807.4,411.71 L805.4,411.31 L803.5,410.91 L801.5,410.51 L799.6,410.11 L797.6,409.71 L795.7,409.31 L793.7,408.91 L791.8,408.51 L789.8,408.11 L787.9,407.71 L785.9,407.31 L784.0,406.91 L782.0,406.51 L780.1,406.11 L778.1,405.71 L776.2,405.32 L774.2,404.92 L772.3,404.52 L770.3,404.12 L768.4,403.72 L766.4,403.32 L764.5,402.92 L762.5,402.52 L760.6,402.12 L758.6,401.59 L756.7,401.01 L754.7,400.42 L752.8,399.84 L750.8,399.25 L748.9,398.67 L746.9,398.08 L745.0,397.50 L743.0,396.91 L741.1,396.33 L739.1,395.74 L737.2,395.16 L735.2,394.57 L733.3,393.99 L731.3,393.40 L729.4,392.82 L727.4,392.23 L725.5,391.65 L723.5,391.06 L721.6,390.48 L719.7,389.90 L717.7,389.31 L715.8,388.73 L713.8,388.14 L711.9,387.56 L709.9,386.97 L708.0,386.39 L706.0,385.80 L704.1,385.22 L702.1,384.63 L700.2,384.05 L698.2,383.46 L696.3,382.88 L694.3,382.29 L692.4,381.71 L690.4,381.12 L688.5,380.54 L686.5,379.95 L684.6,379.37 L682.6,378.79 L680.7,378.20 L678.7,377.47 L676.8,376.67 L674.8,375.86 L672.9,375.06 L670.9,374.26 L669.0,373.45 L667.0,372.65 L665.1,371.84 L663.1,371.04 L661.2,370.24 L659.2,369.43 L657.3,368.63 L655.3,367.82 L653.4,367.02 L651.4,366.22 L649.5,365.41 L647.5,364.61 L645.6,363.80 L643.6,363.00 L641.7,362.20 L639.7,361.39 L637.8,360.59 L635.8,359.78 L633.9,358.98 L631.9,358.18 L630.0,357.37 L628.0,356.57 L626.1,355.76 L624.1,354.96 L622.2,354.16 L620.2,353.35 L618.3,352.55 L616.3,351.74 L614.4,350.94 L612.4,350.14 L610.5,349.33 L608.6,348.53 L606.6,347.72 L604.7,346.92 L602.7,346.12 L600.8,345.31 L598.8,344.25 L596.9,343.02 L594.9,341.80 L593.0,340.57 L591.0,339.34 L589.1,338.12 L587.1,336.89 L585.2,335.67 L583.2,334.44 L581.3,333.21 L579.3,331.99 L577.4,330.76 L575.4,329.54 L573.5,328.31 L571.5,327.09 L569.6,325.86 L567.6,324.63 L565.7,323.41 L563.7,322.18 L561.8,320.96 L559.8,319.73 L557.9,318.50 L555.9,317.28 L554.0,316.05 L552.0,314.83 L550.1,313.60 L548.1,312.37 L546.2,311.15 L544.2,309.92 L542.3,308.70 L540.3,307.47 L538.4,306.24 L536.4,304.89 L534.5,303.34 L532.5,301.79 L530.6,300.24 L528.6,298.68 L526.7,297.12 L524.7,295.53 L522.8,293.95 L520.8,292.36 L518.9,290.77 L516.9,289.20 L515.0,287.65 L513.0,286.09 L511.1,284.54 L509.1,282.99 L507.2,281.37 L505.2,279.62 L503.3,277.87 L501.3,276.12 L499.4,274.37 L497.5,272.62 L495.5,270.87 L493.6,269.12 L491.6,267.37 L489.7,265.63 L487.7,263.88 L485.8,262.13 L483.8,260.38 L481.9,258.63 L479.9,256.88 L478.0,255.25 L476.0,253.88 L474.1,252.50 L472.1,251.13 L470.2,249.76 L468.2,248.45 L466.3,247.28 L464.3,246.12 L462.4,244.95 L460.4,243.79 L458.5,242.56 L456.5,241.18 L454.6,239.81 L452.6,238.44 L450.7,237.07 L448.7,235.58 L446.8,233.83 L444.8,232.08 L442.9,230.33 L440.9,228.58 L439.0,226.88 L437.0,225.31 L435.1,223.74 L433.1,222.18 L431.2,220.61 L429.2,219.11 L427.3,217.75 L425.3,216.40 L423.4,215.05 L421.4,213.70 L419.5,212.41 L417.5,211.30 L415.6,210.19 L413.6,209.07 L411.7,207.96 L409.7,206.86 L407.8,205.83 L405.8,204.80 L403.9,203.77 L401.9,202.74 L400.0,201.72 L398.0,200.69 L396.1,199.66 L394.1,198.67 L392.2,197.70 L390.2,196.72 L388.3,195.75 L386.4,194.78 L384.4,193.88 L382.5,193.10 L380.5,192.32 L378.6,191.54 L376.6,190.76 L374.7,189.98 L372.7,188.98 L370.8,187.98 L368.8,186.99 L366.9,185.99 L364.9,185.06 L363.0,184.18 L361.0,183.30 L359.1,182.43 L357.1,181.55 L355.2,180.68 L353.2,179.80 L351.3,178.92 L349.3,178.03 L347.4,177.15 L345.4,176.27 L343.5,175.38 L341.5,174.59 L339.6,173.92 L337.6,173.24 L335.7,172.56 L333.7,171.89 L331.8,171.21 L329.8,170.61 L327.9,170.13 L325.9,169.65 L324.0,169.17 L322.0,168.69 L320.1,168.21 L318.1,167.76 L316.2,167.37 L314.2,166.97 L312.3,166.57 L310.3,166.18 L308.4,165.78 L306.4,165.42 L304.5,165.13 L302.5,164.85 L300.6,164.57 L298.6,164.29 L296.7,164.00 L294.7,163.73 L292.8,163.50 L290.8,163.27 L288.9,163.04 L286.9,162.81 L285.0,162.58 L283.0,162.35 L281.1,162.15 L279.1,161.95 L277.2,161.75 L275.3,161.55 L273.3,161.35 L271.4,161.16 L269.4,161.00 L267.5,160.83 L265.5,160.67 L263.6,160.50 L261.6,160.34 L259.7,160.19 L257.7,160.12 L255.8,160.04 L253.8,159.97 L251.9,159.90 L249.9,159.83 L248.0,159.76 L246.0,159.69 L244.1,159.62 L242.1,159.54 L240.2,159.47 L238.2,159.40 L236.3,159.33 L234.3,159.26 L232.4,159.19 L230.4,159.12 L228.5,159.04 L226.5,158.97 L224.6,158.90 L222.6,158.83 L220.7,158.76 L218.7,158.69 L216.8,158.62 L214.8,158.54 L212.9,158.47 L210.9,158.40 L209.0,158.33 L207.0,158.26 L205.1,158.19 L203.1,158.11 L201.2,158.04 L199.2,157.86 L197.3,157.51 L195.3,157.16 L193.4,157.10 L191.4,157.10 L189.5,157.10 L187.5,157.09 L185.6,157.09 L183.6,157.09 L181.7,157.09 L179.7,157.09 L177.8,157.09 L175.8,157.09 L173.9,157.08 L171.9,157.08 L170.0,157.08 L168.0,157.08 L166.1,157.08 L164.2,157.08 L162.2,157.08 L160.3,157.08 L158.3,157.07 L156.4,157.07 L154.4,157.07 L152.5,157.07 L150.5,157.07 L148.6,157.07 L146.6,157.07 L144.7,157.06 L142.7,157.06 L140.8,157.06 L138.8,157.06 L136.9,157.06 L134.9,157.06 L133.0,157.06 L131.0,157.05 L129.1,157.05 L127.1,157.05 L125.2,157.05 L123.2,157.05 L121.3,157.05 L119.3,157.05 L117.4,157.04 L115.4,157.04 L113.5,157.04 L111.5,157.04 L109.6,157.04 L107.6,157.04 L105.7,157.04 L103.7,157.03 L101.8,157.03 L99.8,157.03 L97.9,157.03 L95.9,157.03 L94.0,157.03 L92.0,157.03 L90.1,157.03 L88.1,157.02 L86.2,157.02 L84.2,157.02 L82.3,157.02 L80.3,157.02 L78.4,157.02 L76.4,157.02 L74.5,157.01 L72.5,157.01 L70.6,157.01 L68.6,157.01 L66.7,157.01 L64.7,157.01 L62.8,157.01 L60.8,157.00 L58.9,157.00 L56.9,157.00 L55.0,157.00 Z" fill="#dec6d3" stroke="#cba5b9" stroke-width="0.5"/>
<path d="M55.0,157.00 L56.9,157.00 L58.9,157.00 L60.8,157.00 L62.8,157.00 L64.7,157.00 L66.7,157.00 L68.6,157.00 L70.6,157.00 L72.5,157.00 L74.5,157.00 L76.4,157.00 L78.4,157.00 L80.3,157.01 L82.3,157.01 L84.2,157.01 L86.2,157.01 L88.1,157.01 L90.1,157.01 L92.0,157.01 L94.0,157.01 L95.9,157.01 L97.9,157.01 L99.8,157.01 L101.8,157.01 L103.7,157.01 L105.7,157.01 L107.6,157.01 L109.6,157.01 L111.5,157.01 L113.5,157.01 L115.4,157.01 L117.4,157.01 L119.3,157.01 L121.3,157.01 L123.2,157.01 L125.2,157.01 L127.1,157.01 L129.1,157.02 L131.0,157.02 L133.0,157.02 L134.9,157.02 L136.9,157.02 L138.8,157.02 L140.8,157.02 L142.7,157.02 L144.7,157.02 L146.6,157.02 L148.6,157.02 L150.5,157.02 L152.5,157.02 L154.4,157.02 L156.4,157.02 L158.3,157.02 L160.3,157.02 L162.2,157.02 L164.2,157.02 L166.1,157.02 L168.0,157.02 L170.0,157.02 L171.9,157.02 L173.9,157.02 L175.8,157.02 L177.8,157.03 L179.7,157.03 L181.7,157.03 L183.6,157.03 L185.6,157.03 L187.5,157.03 L189.5,157.03 L191.4,157.03 L193.4,157.03 L195.3,157.03 L197.3,157.03 L199.2,157.03 L201.2,157.03 L203.1,157.03 L205.1,157.03 L207.0,157.03 L209.0,157.03 L210.9,157.03 L212.9,157.03 L214.8,157.03 L216.8,157.03 L218.7,157.03 L220.7,157.03 L222.6,157.03 L224.6,157.03 L226.5,157.04 L228.5,157.04 L230.4,157.04 L232.4,157.04 L234.3,157.04 L236.3,157.04 L238.2,157.04 L240.2,157.04 L242.1,157.04 L244.1,157.04 L246.0,157.04 L248.0,157.04 L249.9,157.04 L251.9,157.04 L253.8,157.04 L255.8,157.04 L257.7,157.04 L259.7,157.04 L261.6,157.04 L263.6,157.04 L265.5,157.04 L267.5,157.04 L269.4,157.04 L271.4,157.04 L273.3,157.04 L275.3,157.04 L277.2,157.05 L279.1,157.05 L281.1,157.05 L283.0,157.05 L285.0,157.05 L286.9,157.05 L288.9,157.05 L290.8,157.05 L292.8,157.05 L294.7,157.05 L296.7,157.05 L298.6,157.05 L300.6,157.05 L302.5,157.07 L304.5,157.08 L306.4,157.09 L308.4,157.11 L310.3,157.12 L312.3,157.13 L314.2,157.15 L316.2,157.16 L318.1,157.17 L320.1,157.19 L322.0,157.20 L324.0,157.21 L325.9,157.23 L327.9,157.24 L329.8,157.26 L331.8,157.27 L333.7,157.28 L335.7,157.30 L337.6,157.31 L339.6,157.32 L341.5,157.34 L343.5,157.35 L345.4,157.36 L347.4,157.38 L349.3,157.39 L351.3,157.40 L353.2,157.42 L355.2,157.43 L357.1,157.44 L359.1,157.46 L361.0,157.47 L363.0,157.48 L364.9,157.50 L366.9,157.51 L368.8,157.52 L370.8,157.54 L372.7,157.55 L374.7,157.56 L376.6,157.58 L378.6,157.59 L380.5,157.62 L382.5,157.71 L384.4,157.80 L386.4,157.89 L388.3,157.97 L390.2,158.06 L392.2,158.15 L394.1,158.24 L396.1,158.32 L398.0,158.41 L400.0,158.50 L401.9,158.59 L403.9,158.68 L405.8,158.76 L407.8,158.85 L409.7,158.94 L411.7,159.03 L413.6,159.11 L415.6,159.20 L417.5,159.29 L419.5,159.38 L421.4,159.55 L423.4,159.74 L425.3,159.94 L427.3,160.14 L429.2,160.34 L431.2,160.54 L433.1,160.73 L435.1,160.93 L437.0,161.13 L439.0,161.33 L440.9,161.53 L442.9,161.73 L444.8,161.92 L446.8,162.12 L448.7,162.32 L450.7,162.52 L452.6,162.72 L454.6,162.91 L456.5,163.11 L458.5,163.31 L460.4,163.51 L462.4,163.71 L464.3,163.91 L466.3,164.10 L468.2,164.30 L470.2,164.50 L472.1,164.70 L474.1,164.90 L476.0,165.09 L478.0,165.29 L479.9,165.49 L481.9,165.69 L483.8,165.90 L485.8,166.10 L487.7,166.31 L489.7,166.51 L491.6,166.71 L493.6,166.92 L495.5,167.12 L497.5,167.32 L499.4,167.53 L501.3,167.73 L503.3,167.94 L505.2,168.14 L507.2,168.34 L509.1,168.56 L511.1,168.81 L513.0,169.06 L515.0,169.31 L516.9,169.57 L518.9,169.82 L520.8,170.07 L522.8,170.32 L524.7,170.57 L526.7,170.83 L528.6,171.08 L530.6,171.33 L532.5,171.58 L534.5,171.84 L536.4,172.09 L538.4,172.42 L540.3,172.82 L542.3,173.22 L544.2,173.61 L546.2,174.01 L548.1,174.41 L550.1,174.81 L552.0,175.21 L554.0,175.60 L555.9,176.00 L557.9,176.40 L559.8,176.80 L561.8,177.20 L563.7,177.59 L565.7,177.99 L567.6,178.39 L569.6,178.79 L571.5,179.19 L573.5,179.58 L575.4,179.98 L577.4,180.38 L579.3,180.78 L581.3,181.17 L583.2,181.57 L585.2,181.97 L587.1,182.37 L589.1,182.77 L591.0,183.16 L593.0,183.56 L594.9,183.96 L596.9,184.36 L598.8,184.76 L600.8,185.26 L602.7,185.95 L604.7,186.63 L606.6,187.31 L608.6,187.99 L610.5,188.68 L612.4,189.36 L614.4,190.04 L616.3,190.72 L618.3,191.40 L620.2,192.09 L622.2,192.77 L624.1,193.45 L626.1,194.13 L628.0,194.81 L630.0,195.50 L631.9,196.18 L633.9,196.86 L635.8,197.54 L637.8,198.23 L639.7,198.91 L641.7,199.59 L643.6,200.27 L645.6,200.95 L647.5,201.64 L649.5,202.32 L651.4,203.00 L653.4,203.68 L655.3,204.37 L657.3,205.05 L659.2,205.73 L661.2,206.41 L663.1,207.09 L665.1,207.78 L667.0,208.46 L669.0,209.14 L670.9,209.82 L672.9,210.51 L674.8,211.19 L676.8,211.87 L678.7,212.55 L680.7,213.23 L682.6,213.92 L684.6,214.60 L686.5,215.28 L688.5,215.96 L690.4,216.64 L692.4,217.33 L694.3,218.01 L696.3,218.69 L698.2,219.37 L700.2,220.06 L702.1,220.84 L704.1,221.62 L706.0,222.40 L708.0,223.18 L709.9,223.96 L711.9,224.74 L713.8,225.52 L715.8,226.30 L717.7,227.08 L719.7,227.86 L721.6,228.64 L723.5,229.42 L725.5,230.20 L727.4,230.98 L729.4,231.76 L731.3,232.54 L733.3,233.32 L735.2,234.10 L737.2,234.88 L739.1,235.66 L741.1,236.44 L743.0,237.22 L745.0,238.00 L746.9,238.78 L748.9,239.56 L750.8,240.33 L752.8,241.11 L754.7,241.89 L756.7,242.67 L758.6,243.45 L760.6,244.23 L762.5,245.01 L764.5,245.79 L766.4,246.57 L768.4,247.35 L770.3,248.13 L772.3,248.91 L774.2,249.69 L776.2,250.47 L778.1,251.25 L780.1,252.02 L782.0,252.67 L784.0,253.32 L785.9,253.97 L787.9,254.61 L789.8,255.26 L791.8,255.91 L793.7,256.56 L795.7,257.20 L797.6,257.85 L799.6,258.50 L801.5,259.14 L803.5,259.79 L805.4,260.44 L807.4,261.09 L809.3,261.73 L811.3,262.38 L813.2,263.03 L815.2,263.67 L817.1,264.32 L819.1,264.97 L821.0,265.62 L823.0,266.26 L824.9,266.91 L826.9,267.56 L828.8,268.21 L830.8,268.85 L832.7,269.50 L832.7,326.50 L830.8,325.70 L828.8,324.91 L826.9,324.11 L824.9,323.32 L823.0,322.52 L821.0,321.73 L819.1,320.93 L817.1,320.14 L815.2,319.34 L813.2,318.55 L811.3,317.75 L809.3,316.96 L807.4,316.16 L805.4,315.37 L803.5,314.57 L801.5,313.78 L799.6,312.98 L797.6,312.19 L795.7,311.39 L793.7,310.60 L791.8,309.80 L789.8,309.01 L787.9,308.21 L785.9,307.42 L784.0,306.62 L782.0,305.83 L780.1,305.03 L778.1,303.95 L776.2,302.85 L774.2,301.75 L772.3,300.66 L770.3,299.56 L768.4,298.46 L766.4,297.37 L764.5,296.27 L762.5,295.17 L760.6,294.08 L758.6,292.98 L756.7,291.88 L754.7,290.79 L752.8,289.69 L750.8,288.60 L748.9,287.50 L746.9,286.40 L745.0,285.31 L743.0,284.21 L741.1,283.11 L739.1,282.02 L737.2,280.92 L735.2,279.82 L733.3,278.73 L731.3,277.63 L729.4,276.54 L727.4,275.44 L725.5,274.34 L723.5,273.25 L721.6,272.15 L719.7,271.05 L717.7,269.96 L715.8,268.86 L713.8,267.76 L711.9,266.67 L709.9,265.57 L708.0,264.48 L706.0,263.38 L704.1,262.28 L702.1,261.19 L700.2,260.09 L698.2,259.02 L696.3,257.94 L694.3,256.87 L692.4,255.80 L690.4,254.73 L688.5,253.66 L686.5,252.58 L684.6,251.51 L682.6,250.44 L680.7,249.37 L678.7,248.30 L676.8,247.22 L674.8,246.15 L672.9,245.08 L670.9,244.01 L669.0,242.94 L667.0,241.86 L665.1,240.79 L663.1,239.72 L661.2,238.65 L659.2,237.58 L657.3,236.50 L655.3,235.43 L653.4,234.36 L651.4,233.29 L649.5,232.22 L647.5,231.14 L645.6,230.07 L643.6,229.00 L641.7,227.93 L639.7,226.86 L637.8,225.78 L635.8,224.71 L633.9,223.64 L631.9,222.57 L630.0,221.50 L628.0,220.42 L626.1,219.35 L624.1,218.28 L622.2,217.21 L620.2,216.14 L618.3,215.06 L616.3,213.99 L614.4,212.92 L612.4,211.85 L610.5,210.78 L608.6,209.70 L606.6,208.63 L604.7,207.56 L602.7,206.49 L600.8,205.41 L598.8,204.50 L596.9,203.70 L594.9,202.89 L593.0,202.08 L591.0,201.27 L589.1,200.46 L587.1,199.66 L585.2,198.85 L583.2,198.04 L581.3,197.23 L579.3,196.42 L577.4,195.61 L575.4,194.81 L573.5,194.00 L571.5,193.19 L569.6,192.38 L567.6,191.57 L565.7,190.76 L563.7,189.96 L561.8,189.15 L559.8,188.34 L557.9,187.53 L555.9,186.72 L554.0,185.91 L552.0,185.11 L550.1,184.30 L548.1,183.49 L546.2,182.68 L544.2,181.87 L542.3,181.07 L540.3,180.26 L538.4,179.45 L536.4,178.82 L534.5,178.40 L532.5,177.98 L530.6,177.57 L528.6,177.15 L526.7,176.74 L524.7,176.32 L522.8,175.91 L520.8,175.49 L518.9,175.07 L516.9,174.66 L515.0,174.24 L513.0,173.83 L511.1,173.41 L509.1,173.00 L507.2,172.66 L505.2,172.35 L503.3,172.03 L501.3,171.72 L499.4,171.41 L497.5,171.10 L495.5,170.78 L493.6,170.47 L491.6,170.16 L489.7,169.85 L487.7,169.53 L485.8,169.22 L483.8,168.91 L481.9,168.60 L479.9,168.29 L478.0,168.03 L476.0,167.78 L474.1,167.53 L472.1,167.27 L470.2,167.02 L468.2,166.77 L466.3,166.51 L464.3,166.26 L462.4,166.01 L460.4,165.75 L458.5,165.50 L456.5,165.25 L454.6,164.99 L452.6,164.74 L450.7,164.49 L448.7,164.24 L446.8,163.99 L444.8,163.74 L442.9,163.50 L440.9,163.25 L439.0,163.00 L437.0,162.76 L435.1,162.51 L433.1,162.26 L431.2,162.02 L429.2,161.77 L427.3,161.52 L425.3,161.28 L423.4,161.03 L421.4,160.78 L419.5,160.57 L417.5,160.44 L415.6,160.31 L413.6,160.19 L411.7,160.06 L409.7,159.93 L407.8,159.81 L405.8,159.68 L403.9,159.55 L401.9,159.43 L400.0,159.30 L398.0,159.17 L396.1,159.05 L394.1,158.92 L392.2,158.79 L390.2,158.67 L388.3,158.54 L386.4,158.41 L384.4,158.29 L382.5,158.16 L380.5,158.03 L378.6,157.98 L376.6,157.96 L374.7,157.94 L372.7,157.92 L370.8,157.90 L368.8,157.87 L366.9,157.85 L364.9,157.83 L363.0,157.81 L361.0,157.79 L359.1,157.76 L357.1,157.74 L355.2,157.72 L353.2,157.70 L351.3,157.68 L349.3,157.65 L347.4,157.63 L345.4,157.61 L343.5,157.59 L341.5,157.57 L339.6,157.55 L337.6,157.52 L335.7,157.50 L333.7,157.48 L331.8,157.46 L329.8,157.44 L327.9,157.41 L325.9,157.39 L324.0,157.37 L322.0,157.35 L320.1,157.33 L318.1,157.30 L316.2,157.28 L314.2,157.26 L312.3,157.24 L310.3,157.22 L308.4,157.19 L306.4,157.17 L304.5,157.15 L302.5,157.13 L300.6,157.11 L298.6,157.10 L296.7,157.10 L294.7,157.10 L292.8,157.10 L290.8,157.10 L288.9,157.10 L286.9,157.09 L285.0,157.09 L283.0,157.09 L281.1,157.09 L279.1,157.09 L277.2,157.09 L275.3,157.09 L273.3,157.09 L271.4,157.09 L269.4,157.09 L267.5,157.09 L265.5,157.09 L263.6,157.09 L261.6,157.08 L259.7,157.08 L257.7,157.08 L255.8,157.08 L253.8,157.08 L251.9,157.08 L249.9,157.08 L248.0,157.08 L246.0,157.08 L244.1,157.08 L242.1,157.08 L240.2,157.08 L238.2,157.07 L236.3,157.07 L234.3,157.07 L232.4,157.07 L230.4,157.07 L228.5,157.07 L226.5,157.07 L224.6,157.07 L222.6,157.07 L220.7,157.07 L218.7,157.07 L216.8,157.07 L214.8,157.07 L212.9,157.06 L210.9,157.06 L209.0,157.06 L207.0,157.06 L205.1,157.06 L203.1,157.06 L201.2,157.06 L199.2,157.06 L197.3,157.06 L195.3,157.06 L193.4,157.06 L191.4,157.06 L189.5,157.05 L187.5,157.05 L185.6,157.05 L183.6,157.05 L181.7,157.05 L179.7,157.05 L177.8,157.05 L175.8,157.05 L173.9,157.05 L171.9,157.05 L170.0,157.05 L168.0,157.05 L166.1,157.05 L164.2,157.04 L162.2,157.04 L160.3,157.04 L158.3,157.04 L156.4,157.04 L154.4,157.04 L152.5,157.04 L150.5,157.04 L148.6,157.04 L146.6,157.04 L144.7,157.04 L142.7,157.04 L140.8,157.04 L138.8,157.03 L136.9,157.03 L134.9,157.03 L133.0,157.03 L131.0,157.03 L129.1,157.03 L127.1,157.03 L125.2,157.03 L123.2,157.03 L121.3,157.03 L119.3,157.03 L117.4,157.03 L115.4,157.02 L113.5,157.02 L111.5,157.02 L109.6,157.02 L107.6,157.02 L105.7,157.02 L103.7,157.02 L101.8,157.02 L99.8,157.02 L97.9,157.02 L95.9,157.02 L94.0,157.02 L92.0,157.02 L90.1,157.01 L88.1,157.01 L86.2,157.01 L84.2,157.01 L82.3,157.01 L80.3,157.01 L78.4,157.01 L76.4,157.01 L74.5,157.01 L72.5,157.01 L70.6,157.01 L68.6,157.01 L66.7,157.00 L64.7,157.00 L62.8,157.00 L60.8,157.00 L58.9,157.00 L56.9,157.00 L55.0,157.00 Z" fill="#dcbdc2" stroke="#c8979e" stroke-width="0.5"/>
<path d="M55.0,157.00 L56.9,157.00 L58.9,157.00 L60.8,157.00 L62.8,157.00 L64.7,157.00 L66.7,157.00 L68.6,157.00 L70.6,157.00 L72.5,157.00 L74.5,157.00 L76.4,157.00 L78.4,157.00 L80.3,157.00 L82.3,157.00 L84.2,157.00 L86.2,157.00 L88.1,157.00 L90.1,157.00 L92.0,157.00 L94.0,157.00 L95.9,157.00 L97.9,157.00 L99.8,157.00 L101.8,157.00 L103.7,157.00 L105.7,157.00 L107.6,157.00 L109.6,157.00 L111.5,157.00 L113.5,157.00 L115.4,157.00 L117.4,157.01 L119.3,157.01 L121.3,157.01 L123.2,157.01 L125.2,157.01 L127.1,157.01 L129.1,157.01 L131.0,157.01 L133.0,157.01 L134.9,157.01 L136.9,157.01 L138.8,157.01 L140.8,157.01 L142.7,157.01 L144.7,157.01 L146.6,157.01 L148.6,157.01 L150.5,157.01 L152.5,157.01 L154.4,157.01 L156.4,157.01 L158.3,157.01 L160.3,157.01 L162.2,157.01 L164.2,157.01 L166.1,157.01 L168.0,157.01 L170.0,157.01 L171.9,157.01 L173.9,157.01 L175.8,157.01 L177.8,157.01 L179.7,157.01 L181.7,157.01 L183.6,157.01 L185.6,157.01 L187.5,157.01 L189.5,157.01 L191.4,157.01 L193.4,157.01 L195.3,157.01 L197.3,157.01 L199.2,157.01 L201.2,157.01 L203.1,157.01 L205.1,157.01 L207.0,157.01 L209.0,157.01 L210.9,157.01 L212.9,157.01 L214.8,157.01 L216.8,157.01 L218.7,157.01 L220.7,157.01 L222.6,157.01 L224.6,157.01 L226.5,157.01 L228.5,157.01 L230.4,157.01 L232.4,157.01 L234.3,157.01 L236.3,157.01 L238.2,157.01 L240.2,157.02 L242.1,157.02 L244.1,157.02 L246.0,157.02 L248.0,157.02 L249.9,157.02 L251.9,157.02 L253.8,157.02 L255.8,157.02 L257.7,157.02 L259.7,157.02 L261.6,157.02 L263.6,157.02 L265.5,157.02 L267.5,157.02 L269.4,157.02 L271.4,157.02 L273.3,157.02 L275.3,157.02 L277.2,157.02 L279.1,157.02 L281.1,157.02 L283.0,157.02 L285.0,157.02 L286.9,157.02 L288.9,157.02 L290.8,157.02 L292.8,157.02 L294.7,157.02 L296.7,157.02 L298.6,157.02 L300.6,157.02 L302.5,157.03 L304.5,157.04 L306.4,157.05 L308.4,157.06 L310.3,157.07 L312.3,157.08 L314.2,157.09 L316.2,157.10 L318.1,157.11 L320.1,157.12 L322.0,157.12 L324.0,157.13 L325.9,157.14 L327.9,157.15 L329.8,157.16 L331.8,157.17 L333.7,157.18 L335.7,157.19 L337.6,157.20 L339.6,157.21 L341.5,157.22 L343.5,157.23 L345.4,157.24 L347.4,157.25 L349.3,157.25 L351.3,157.26 L353.2,157.27 L355.2,157.28 L357.1,157.29 L359.1,157.30 L361.0,157.31 L363.0,157.32 L364.9,157.33 L366.9,157.34 L368.8,157.35 L370.8,157.36 L372.7,157.37 L374.7,157.37 L376.6,157.38 L378.6,157.39 L380.5,157.42 L382.5,157.47 L384.4,157.53 L386.4,157.59 L388.3,157.65 L390.2,157.71 L392.2,157.77 L394.1,157.82 L396.1,157.88 L398.0,157.94 L400.0,158.00 L401.9,158.06 L403.9,158.12 L405.8,158.18 L407.8,158.23 L409.7,158.29 L411.7,158.35 L413.6,158.41 L415.6,158.47 L417.5,158.53 L419.5,158.58 L421.4,158.69 L423.4,158.81 L425.3,158.94 L427.3,159.06 L429.2,159.18 L431.2,159.31 L433.1,159.43 L435.1,159.56 L437.0,159.68 L439.0,159.80 L440.9,159.93 L442.9,160.05 L444.8,160.17 L446.8,160.30 L448.7,160.42 L450.7,160.54 L452.6,160.67 L454.6,160.79 L456.5,160.91 L458.5,161.04 L460.4,161.16 L462.4,161.28 L464.3,161.41 L466.3,161.53 L468.2,161.65 L470.2,161.78 L472.1,161.90 L474.1,162.02 L476.0,162.15 L478.0,162.27 L479.9,162.39 L481.9,162.49 L483.8,162.59 L485.8,162.68 L487.7,162.78 L489.7,162.87 L491.6,162.97 L493.6,163.06 L495.5,163.16 L497.5,163.25 L499.4,163.35 L501.3,163.44 L503.3,163.54 L505.2,163.63 L507.2,163.73 L509.1,163.83 L511.1,163.94 L513.0,164.06 L515.0,164.17 L516.9,164.29 L518.9,164.41 L520.8,164.52 L522.8,164.64 L524.7,164.75 L526.7,164.87 L528.6,164.99 L530.6,165.10 L532.5,165.22 L534.5,165.33 L536.4,165.45 L538.4,165.70 L540.3,166.06 L542.3,166.41 L544.2,166.77 L546.2,167.13 L548.1,167.49 L550.1,167.84 L552.0,168.20 L554.0,168.56 L555.9,168.92 L557.9,169.27 L559.8,169.63 L561.8,169.99 L563.7,170.35 L565.7,170.70 L567.6,171.06 L569.6,171.42 L571.5,171.78 L573.5,172.13 L575.4,172.49 L577.4,172.85 L579.3,173.21 L581.3,173.56 L583.2,173.92 L585.2,174.28 L587.1,174.64 L589.1,174.99 L591.0,175.35 L593.0,175.71 L594.9,176.07 L596.9,176.42 L598.8,176.78 L600.8,177.21 L602.7,177.76 L604.7,178.30 L606.6,178.85 L608.6,179.39 L610.5,179.94 L612.4,180.49 L614.4,181.03 L616.3,181.58 L618.3,182.12 L620.2,182.67 L622.2,183.21 L624.1,183.76 L626.1,184.31 L628.0,184.85 L630.0,185.40 L631.9,185.94 L633.9,186.49 L635.8,187.03 L637.8,187.58 L639.7,188.13 L641.7,188.67 L643.6,189.22 L645.6,189.76 L647.5,190.31 L649.5,190.86 L651.4,191.40 L653.4,191.95 L655.3,192.49 L657.3,193.04 L659.2,193.58 L661.2,194.13 L663.1,194.68 L665.1,195.22 L667.0,195.77 L669.0,196.31 L670.9,196.86 L672.9,197.40 L674.8,197.95 L676.8,198.50 L678.7,199.04 L680.7,199.59 L682.6,200.13 L684.6,200.68 L686.5,201.22 L688.5,201.77 L690.4,202.32 L692.4,202.86 L694.3,203.41 L696.3,203.95 L698.2,204.50 L700.2,205.06 L702.1,205.82 L704.1,206.57 L706.0,207.33 L708.0,208.08 L709.9,208.84 L711.9,209.59 L713.8,210.35 L715.8,211.10 L717.7,211.86 L719.7,212.61 L721.6,213.37 L723.5,214.13 L725.5,214.88 L727.4,215.64 L729.4,216.39 L731.3,217.15 L733.3,217.90 L735.2,218.66 L737.2,219.41 L739.1,220.17 L741.1,220.92 L743.0,221.68 L745.0,222.43 L746.9,223.19 L748.9,223.94 L750.8,224.70 L752.8,225.45 L754.7,226.21 L756.7,226.97 L758.6,227.72 L760.6,228.48 L762.5,229.23 L764.5,229.99 L766.4,230.74 L768.4,231.50 L770.3,232.25 L772.3,233.01 L774.2,233.76 L776.2,234.52 L778.1,235.27 L780.1,236.03 L782.0,236.77 L784.0,237.51 L785.9,238.25 L787.9,238.99 L789.8,239.73 L791.8,240.47 L793.7,241.21 L795.7,241.95 L797.6,242.69 L799.6,243.43 L801.5,244.16 L803.5,244.90 L805.4,245.64 L807.4,246.38 L809.3,247.12 L811.3,247.86 L813.2,248.60 L815.2,249.34 L817.1,250.08 L819.1,250.82 L821.0,251.56 L823.0,252.30 L824.9,253.04 L826.9,253.78 L828.8,254.52 L830.8,255.26 L832.7,256.00 L832.7,269.50 L830.8,268.85 L828.8,268.21 L826.9,267.56 L824.9,266.91 L823.0,266.26 L821.0,265.62 L819.1,264.97 L817.1,264.32 L815.2,263.67 L813.2,263.03 L811.3,262.38 L809.3,261.73 L807.4,261.09 L805.4,260.44 L803.5,259.79 L801.5,259.14 L799.6,258.50 L797.6,257.85 L795.7,257.20 L793.7,256.56 L791.8,255.91 L789.8,255.26 L787.9,254.61 L785.9,253.97 L784.0,253.32 L782.0,252.67 L780.1,252.02 L778.1,251.25 L776.2,250.47 L774.2,249.69 L772.3,248.91 L770.3,248.13 L768.4,247.35 L766.4,246.57 L764.5,245.79 L762.5,245.01 L760.6,244.23 L758.6,243.45 L756.7,242.67 L754.7,241.89 L752.8,241.11 L750.8,240.33 L748.9,239.56 L746.9,238.78 L745.0,238.00 L743.0,237.22 L741.1,236.44 L739.1,235.66 L737.2,234.88 L735.2,234.10 L733.3,233.32 L731.3,232.54 L729.4,231.76 L727.4,230.98 L725.5,230.20 L723.5,229.42 L721.6,228.64 L719.7,227.86 L717.7,227.08 L715.8,226.30 L713.8,225.52 L711.9,224.74 L709.9,223.96 L708.0,223.18 L706.0,222.40 L704.1,221.62 L702.1,220.84 L700.2,220.06 L698.2,219.37 L696.3,218.69 L694.3,218.01 L692.4,217.33 L690.4,216.64 L688.5,215.96 L686.5,215.28 L684.6,214.60 L682.6,213.92 L680.7,213.23 L678.7,212.55 L676.8,211.87 L674.8,211.19 L672.9,210.51 L670.9,209.82 L669.0,209.14 L667.0,208.46 L665.1,207.78 L663.1,207.09 L661.2,206.41 L659.2,205.73 L657.3,205.05 L655.3,204.37 L653.4,203.68 L651.4,203.00 L649.5,202.32 L647.5,201.64 L645.6,200.95 L643.6,200.27 L641.7,199.59 L639.7,198.91 L637.8,198.23 L635.8,197.54 L633.9,196.86 L631.9,196.18 L630.0,195.50 L628.0,194.81 L626.1,194.13 L624.1,193.45 L622.2,192.77 L620.2,192.09 L618.3,191.40 L616.3,190.72 L614.4,190.04 L612.4,189.36 L610.5,188.68 L608.6,187.99 L606.6,187.31 L604.7,186.63 L602.7,185.95 L600.8,185.26 L598.8,184.76 L596.9,184.36 L594.9,183.96 L593.0,183.56 L591.0,183.16 L589.1,182.77 L587.1,182.37 L585.2,181.97 L583.2,181.57 L581.3,181.17 L579.3,180.78 L577.4,180.38 L575.4,179.98 L573.5,179.58 L571.5,179.19 L569.6,178.79 L567.6,178.39 L565.7,177.99 L563.7,177.59 L561.8,177.20 L559.8,176.80 L557.9,176.40 L555.9,176.00 L554.0,175.60 L552.0,175.21 L550.1,174.81 L548.1,174.41 L546.2,174.01 L544.2,173.61 L542.3,173.22 L540.3,172.82 L538.4,172.42 L536.4,172.09 L534.5,171.84 L532.5,171.58 L530.6,171.33 L528.6,171.08 L526.7,170.83 L524.7,170.57 L522.8,170.32 L520.8,170.07 L518.9,169.82 L516.9,169.57 L515.0,169.31 L513.0,169.06 L511.1,168.81 L509.1,168.56 L507.2,168.34 L505.2,168.14 L503.3,167.94 L501.3,167.73 L499.4,167.53 L497.5,167.32 L495.5,167.12 L493.6,166.92 L491.6,166.71 L489.7,166.51 L487.7,166.31 L485.8,166.10 L483.8,165.90 L481.9,165.69 L479.9,165.49 L478.0,165.29 L476.0,165.09 L474.1,164.90 L472.1,164.70 L470.2,164.50 L468.2,164.30 L466.3,164.10 L464.3,163.91 L462.4,163.71 L460.4,163.51 L458.5,163.31 L456.5,163.11 L454.6,162.91 L452.6,162.72 L450.7,162.52 L448.7,162.32 L446.8,162.12 L444.8,161.92 L442.9,161.73 L440.9,161.53 L439.0,161.33 L437.0,161.13 L435.1,160.93 L433.1,160.73 L431.2,160.54 L429.2,160.34 L427.3,160.14 L425.3,159.94 L423.4,159.74 L421.4,159.55 L419.5,159.38 L417.5,159.29 L415.6,159.20 L413.6,159.11 L411.7,159.03 L409.7,158.94 L407.8,158.85 L405.8,158.76 L403.9,158.68 L401.9,158.59 L400.0,158.50 L398.0,158.41 L396.1,158.32 L394.1,158.24 L392.2,158.15 L390.2,158.06 L388.3,157.97 L386.4,157.89 L384.4,157.80 L382.5,157.71 L380.5,157.62 L378.6,157.59 L376.6,157.58 L374.7,157.56 L372.7,157.55 L370.8,157.54 L368.8,157.52 L366.9,157.51 L364.9,157.50 L363.0,157.48 L361.0,157.47 L359.1,157.46 L357.1,157.44 L355.2,157.43 L353.2,157.42 L351.3,157.40 L349.3,157.39 L347.4,157.38 L345.4,157.36 L343.5,157.35 L341.5,157.34 L339.6,157.32 L337.6,157.31 L335.7,157.30 L333.7,157.28 L331.8,157.27 L329.8,157.26 L327.9,157.24 L325.9,157.23 L324.0,157.21 L322.0,157.20 L320.1,157.19 L318.1,157.17 L316.2,157.16 L314.2,157.15 L312.3,157.13 L310.3,157.12 L308.4,157.11 L306.4,157.09 L304.5,157.08 L302.5,157.07 L300.6,157.05 L298.6,157.05 L296.7,157.05 L294.7,157.05 L292.8,157.05 L290.8,157.05 L288.9,157.05 L286.9,157.05 L285.0,157.05 L283.0,157.05 L281.1,157.05 L279.1,157.05 L277.2,157.05 L275.3,157.04 L273.3,157.04 L271.4,157.04 L269.4,157.04 L267.5,157.04 L265.5,157.04 L263.6,157.04 L261.6,157.04 L259.7,157.04 L257.7,157.04 L255.8,157.04 L253.8,157.04 L251.9,157.04 L249.9,157.04 L248.0,157.04 L246.0,157.04 L244.1,157.04 L242.1,157.04 L240.2,157.04 L238.2,157.04 L236.3,157.04 L234.3,157.04 L232.4,157.04 L230.4,157.04 L228.5,157.04 L226.5,157.04 L224.6,157.03 L222.6,157.03 L220.7,157.03 L218.7,157.03 L216.8,157.03 L214.8,157.03 L212.9,157.03 L210.9,157.03 L209.0,157.03 L207.0,157.03 L205.1,157.03 L203.1,157.03 L201.2,157.03 L199.2,157.03 L197.3,157.03 L195.3,157.03 L193.4,157.03 L191.4,157.03 L189.5,157.03 L187.5,157.03 L185.6,157.03 L183.6,157.03 L181.7,157.03 L179.7,157.03 L177.8,157.03 L175.8,157.02 L173.9,157.02 L171.9,157.02 L170.0,157.02 L168.0,157.02 L166.1,157.02 L164.2,157.02 L162.2,157.02 L160.3,157.02 L158.3,157.02 L156.4,157.02 L154.4,157.02 L152.5,157.02 L150.5,157.02 L148.6,157.02 L146.6,157.02 L144.7,157.02 L142.7,157.02 L140.8,157.02 L138.8,157.02 L136.9,157.02 L134.9,157.02 L133.0,157.02 L131.0,157.02 L129.1,157.02 L127.1,157.01 L125.2,157.01 L123.2,157.01 L121.3,157.01 L119.3,157.01 L117.4,157.01 L115.4,157.01 L113.5,157.01 L111.5,157.01 L109.6,157.01 L107.6,157.01 L105.7,157.01 L103.7,157.01 L101.8,157.01 L99.8,157.01 L97.9,157.01 L95.9,157.01 L94.0,157.01 L92.0,157.01 L90.1,157.01 L88.1,157.01 L86.2,157.01 L84.2,157.01 L82.3,157.01 L80.3,157.01 L78.4,157.00 L76.4,157.00 L74.5,157.00 L72.5,157.00 L70.6,157.00 L68.6,157.00 L66.7,157.00 L64.7,157.00 L62.8,157.00 L60.8,157.00 L58.9,157.00 L56.9,157.00 L55.0,157.00 Z" fill="#cadbc7" stroke="#abc6a6" stroke-width="0.5"/>
<path d="M55.0,157.00 L56.9,157.00 L58.9,157.00 L60.8,157.00 L62.8,157.00 L64.7,157.01 L66.7,157.01 L68.6,157.01 L70.6,157.01 L72.5,157.01 L74.5,157.01 L76.4,157.01 L78.4,157.01 L80.3,157.02 L82.3,157.02 L84.2,157.02 L86.2,157.02 L88.1,157.02 L90.1,157.02 L92.0,157.02 L94.0,157.02 L95.9,157.03 L97.9,157.03 L99.8,157.03 L101.8,157.03 L103.7,157.03 L105.7,157.03 L107.6,157.03 L109.6,157.03 L111.5,157.03 L113.5,157.04 L115.4,157.04 L117.4,157.04 L119.3,157.04 L121.3,157.04 L123.2,157.04 L125.2,157.04 L127.1,157.04 L129.1,157.05 L131.0,157.05 L133.0,157.05 L134.9,157.05 L136.9,157.05 L138.8,157.05 L140.8,157.05 L142.7,157.05 L144.7,157.06 L146.6,157.06 L148.6,157.06 L150.5,157.06 L152.5,157.06 L154.4,157.06 L156.4,157.06 L158.3,157.06 L160.3,157.06 L162.2,157.07 L164.2,157.07 L166.1,157.07 L168.0,157.07 L170.0,157.07 L171.9,157.07 L173.9,157.07 L175.8,157.07 L177.8,157.08 L179.7,157.08 L181.7,157.08 L183.6,157.08 L185.6,157.08 L187.5,157.08 L189.5,157.08 L191.4,157.08 L193.4,157.09 L195.3,157.09 L197.3,157.09 L199.2,157.09 L201.2,157.09 L203.1,157.09 L205.1,157.09 L207.0,157.09 L209.0,157.09 L210.9,157.10 L212.9,157.10 L214.8,157.10 L216.8,157.10 L218.7,157.10 L220.7,157.10 L222.6,157.10 L224.6,157.10 L226.5,157.11 L228.5,157.11 L230.4,157.11 L232.4,157.11 L234.3,157.11 L236.3,157.11 L238.2,157.11 L240.2,157.11 L242.1,157.12 L244.1,157.12 L246.0,157.12 L248.0,157.12 L249.9,157.12 L251.9,157.12 L253.8,157.12 L255.8,157.12 L257.7,157.12 L259.7,157.13 L261.6,157.13 L263.6,157.13 L265.5,157.13 L267.5,157.13 L269.4,157.13 L271.4,157.13 L273.3,157.13 L275.3,157.14 L277.2,157.14 L279.1,157.14 L281.1,157.14 L283.0,157.14 L285.0,157.14 L286.9,157.14 L288.9,157.14 L290.8,157.15 L292.8,157.15 L294.7,157.15 L296.7,157.15 L298.6,157.15 L300.6,157.15 L302.5,157.15 L304.5,157.15 L306.4,157.15 L308.4,157.16 L310.3,157.16 L312.3,157.16 L314.2,157.16 L316.2,157.16 L318.1,157.16 L320.1,157.16 L322.0,157.16 L324.0,157.17 L325.9,157.17 L327.9,157.17 L329.8,157.17 L331.8,157.17 L333.7,157.17 L335.7,157.17 L337.6,157.17 L339.6,157.18 L341.5,157.18 L343.5,157.18 L345.4,157.18 L347.4,157.18 L349.3,157.18 L351.3,157.18 L353.2,157.18 L355.2,157.18 L357.1,157.19 L359.1,157.19 L361.0,157.19 L363.0,157.19 L364.9,157.19 L366.9,157.19 L368.8,157.19 L370.8,157.19 L372.7,157.20 L374.7,157.20 L376.6,157.20 L378.6,157.20 L380.5,157.21 L382.5,157.27 L384.4,157.32 L386.4,157.37 L388.3,157.43 L390.2,157.48 L392.2,157.54 L394.1,157.59 L396.1,157.64 L398.0,157.70 L400.0,157.75 L401.9,157.80 L403.9,157.86 L405.8,157.91 L407.8,157.96 L409.7,158.02 L411.7,158.07 L413.6,158.13 L415.6,158.18 L417.5,158.23 L419.5,158.29 L421.4,158.35 L423.4,158.42 L425.3,158.50 L427.3,158.57 L429.2,158.64 L431.2,158.71 L433.1,158.78 L435.1,158.85 L437.0,158.92 L439.0,159.00 L440.9,159.07 L442.9,159.14 L444.8,159.21 L446.8,159.28 L448.7,159.35 L450.7,159.42 L452.6,159.50 L454.6,159.57 L456.5,159.64 L458.5,159.71 L460.4,159.78 L462.4,159.85 L464.3,159.92 L466.3,160.00 L468.2,160.07 L470.2,160.14 L472.1,160.21 L474.1,160.28 L476.0,160.35 L478.0,160.43 L479.9,160.50 L481.9,160.58 L483.8,160.67 L485.8,160.75 L487.7,160.84 L489.7,160.92 L491.6,161.01 L493.6,161.09 L495.5,161.18 L497.5,161.26 L499.4,161.35 L501.3,161.43 L503.3,161.52 L505.2,161.60 L507.2,161.69 L509.1,161.77 L511.1,161.86 L513.0,161.94 L515.0,162.03 L516.9,162.11 L518.9,162.20 L520.8,162.28 L522.8,162.37 L524.7,162.45 L526.7,162.54 L528.6,162.62 L530.6,162.71 L532.5,162.79 L534.5,162.88 L536.4,162.96 L538.4,163.16 L540.3,163.44 L542.3,163.71 L544.2,163.99 L546.2,164.27 L548.1,164.55 L550.1,164.83 L552.0,165.11 L554.0,165.39 L555.9,165.67 L557.9,165.95 L559.8,166.23 L561.8,166.51 L563.7,166.79 L565.7,167.07 L567.6,167.35 L569.6,167.63 L571.5,167.91 L573.5,168.19 L575.4,168.47 L577.4,168.75 L579.3,169.03 L581.3,169.31 L583.2,169.59 L585.2,169.87 L587.1,170.15 L589.1,170.43 L591.0,170.71 L593.0,170.99 L594.9,171.27 L596.9,171.55 L598.8,171.83 L600.8,172.18 L602.7,172.65 L604.7,173.12 L606.6,173.58 L608.6,174.05 L610.5,174.52 L612.4,174.99 L614.4,175.46 L616.3,175.92 L618.3,176.39 L620.2,176.86 L622.2,177.33 L624.1,177.79 L626.1,178.26 L628.0,178.73 L630.0,179.20 L631.9,179.67 L633.9,180.13 L635.8,180.60 L637.8,181.07 L639.7,181.54 L641.7,182.00 L643.6,182.47 L645.6,182.94 L647.5,183.41 L649.5,183.88 L651.4,184.34 L653.4,184.81 L655.3,185.28 L657.3,185.75 L659.2,186.21 L661.2,186.68 L663.1,187.15 L665.1,187.62 L667.0,188.09 L669.0,188.55 L670.9,189.02 L672.9,189.49 L674.8,189.96 L676.8,190.42 L678.7,190.89 L680.7,191.36 L682.6,191.83 L684.6,192.30 L686.5,192.76 L688.5,193.23 L690.4,193.70 L692.4,194.17 L694.3,194.63 L696.3,195.10 L698.2,195.57 L700.2,196.06 L702.1,196.82 L704.1,197.57 L706.0,198.33 L708.0,199.08 L709.9,199.84 L711.9,200.59 L713.8,201.35 L715.8,202.10 L717.7,202.86 L719.7,203.61 L721.6,204.37 L723.5,205.13 L725.5,205.88 L727.4,206.64 L729.4,207.39 L731.3,208.15 L733.3,208.90 L735.2,209.66 L737.2,210.41 L739.1,211.17 L741.1,211.92 L743.0,212.68 L745.0,213.43 L746.9,214.19 L748.9,214.94 L750.8,215.70 L752.8,216.45 L754.7,217.21 L756.7,217.97 L758.6,218.72 L760.6,219.48 L762.5,220.23 L764.5,220.99 L766.4,221.74 L768.4,222.50 L770.3,223.25 L772.3,224.01 L774.2,224.76 L776.2,225.52 L778.1,226.27 L780.1,227.03 L782.0,227.74 L784.0,228.45 L785.9,229.16 L787.9,229.87 L789.8,230.59 L791.8,231.30 L793.7,232.01 L795.7,232.72 L797.6,233.43 L799.6,234.15 L801.5,234.86 L803.5,235.57 L805.4,236.28 L807.4,236.99 L809.3,237.71 L811.3,238.42 L813.2,239.13 L815.2,239.84 L817.1,240.55 L819.1,241.27 L821.0,241.98 L823.0,242.69 L824.9,243.40 L826.9,244.11 L828.8,244.83 L830.8,245.54 L832.7,246.25 L832.7,256.00 L830.8,255.26 L828.8,254.52 L826.9,253.78 L824.9,253.04 L823.0,252.30 L821.0,251.56 L819.1,250.82 L817.1,250.08 L815.2,249.34 L813.2,248.60 L811.3,247.86 L809.3,247.12 L807.4,246.38 L805.4,245.64 L803.5,244.90 L801.5,244.16 L799.6,243.43 L797.6,242.69 L795.7,241.95 L793.7,241.21 L791.8,240.47 L789.8,239.73 L787.9,238.99 L785.9,238.25 L784.0,237.51 L782.0,236.77 L780.1,236.03 L778.1,235.27 L776.2,234.52 L774.2,233.76 L772.3,233.01 L770.3,232.25 L768.4,231.50 L766.4,230.74 L764.5,229.99 L762.5,229.23 L760.6,228.48 L758.6,227.72 L756.7,226.97 L754.7,226.21 L752.8,225.45 L750.8,224.70 L748.9,223.94 L746.9,223.19 L745.0,222.43 L743.0,221.68 L741.1,220.92 L739.1,220.17 L737.2,219.41 L735.2,218.66 L733.3,217.90 L731.3,217.15 L729.4,216.39 L727.4,215.64 L725.5,214.88 L723.5,214.13 L721.6,213.37 L719.7,212.61 L717.7,211.86 L715.8,211.10 L713.8,210.35 L711.9,209.59 L709.9,208.84 L708.0,208.08 L706.0,207.33 L704.1,206.57 L702.1,205.82 L700.2,205.06 L698.2,204.50 L696.3,203.95 L694.3,203.41 L692.4,202.86 L690.4,202.32 L688.5,201.77 L686.5,201.22 L684.6,200.68 L682.6,200.13 L680.7,199.59 L678.7,199.04 L676.8,198.50 L674.8,197.95 L672.9,197.40 L670.9,196.86 L669.0,196.31 L667.0,195.77 L665.1,195.22 L663.1,194.68 L661.2,194.13 L659.2,193.58 L657.3,193.04 L655.3,192.49 L653.4,191.95 L651.4,191.40 L649.5,190.86 L647.5,190.31 L645.6,189.76 L643.6,189.22 L641.7,188.67 L639.7,188.13 L637.8,187.58 L635.8,187.03 L633.9,186.49 L631.9,185.94 L630.0,185.40 L628.0,184.85 L626.1,184.31 L624.1,183.76 L622.2,183.21 L620.2,182.67 L618.3,182.12 L616.3,181.58 L614.4,181.03 L612.4,180.49 L610.5,179.94 L608.6,179.39 L606.6,178.85 L604.7,178.30 L602.7,177.76 L600.8,177.21 L598.8,176.78 L596.9,176.42 L594.9,176.07 L593.0,175.71 L591.0,175.35 L589.1,174.99 L587.1,174.64 L585.2,174.28 L583.2,173.92 L581.3,173.56 L579.3,173.21 L577.4,172.85 L575.4,172.49 L573.5,172.13 L571.5,171.78 L569.6,171.42 L567.6,171.06 L565.7,170.70 L563.7,170.35 L561.8,169.99 L559.8,169.63 L557.9,169.27 L555.9,168.92 L554.0,168.56 L552.0,168.20 L550.1,167.84 L548.1,167.49 L546.2,167.13 L544.2,166.77 L542.3,166.41 L540.3,166.06 L538.4,165.70 L536.4,165.45 L534.5,165.33 L532.5,165.22 L530.6,165.10 L528.6,164.99 L526.7,164.87 L524.7,164.75 L522.8,164.64 L520.8,164.52 L518.9,164.41 L516.9,164.29 L515.0,164.17 L513.0,164.06 L511.1,163.94 L509.1,163.83 L507.2,163.73 L505.2,163.63 L503.3,163.54 L501.3,163.44 L499.4,163.35 L497.5,163.25 L495.5,163.16 L493.6,163.06 L491.6,162.97 L489.7,162.87 L487.7,162.78 L485.8,162.68 L483.8,162.59 L481.9,162.49 L479.9,162.39 L478.0,162.27 L476.0,162.15 L474.1,162.02 L472.1,161.90 L470.2,161.78 L468.2,161.65 L466.3,161.53 L464.3,161.41 L462.4,161.28 L460.4,161.16 L458.5,161.04 L456.5,160.91 L454.6,160.79 L452.6,160.67 L450.7,160.54 L448.7,160.42 L446.8,160.30 L444.8,160.17 L442.9,160.05 L440.9,159.93 L439.0,159.80 L437.0,159.68 L435.1,159.56 L433.1,159.43 L431.2,159.31 L429.2,159.18 L427.3,159.06 L425.3,158.94 L423.4,158.81 L421.4,158.69 L419.5,158.58 L417.5,158.53 L415.6,158.47 L413.6,158.41 L411.7,158.35 L409.7,158.29 L407.8,158.23 L405.8,158.18 L403.9,158.12 L401.9,158.06 L400.0,158.00 L398.0,157.94 L396.1,157.88 L394.1,157.82 L392.2,157.77 L390.2,157.71 L388.3,157.65 L386.4,157.59 L384.4,157.53 L382.5,157.47 L380.5,157.42 L378.6,157.39 L376.6,157.38 L374.7,157.37 L372.7,157.37 L370.8,157.36 L368.8,157.35 L366.9,157.34 L364.9,157.33 L363.0,157.32 L361.0,157.31 L359.1,157.30 L357.1,157.29 L355.2,157.28 L353.2,157.27 L351.3,157.26 L349.3,157.25 L347.4,157.25 L345.4,157.24 L343.5,157.23 L341.5,157.22 L339.6,157.21 L337.6,157.20 L335.7,157.19 L333.7,157.18 L331.8,157.17 L329.8,157.16 L327.9,157.15 L325.9,157.14 L324.0,157.13 L322.0,157.12 L320.1,157.12 L318.1,157.11 L316.2,157.10 L314.2,157.09 L312.3,157.08 L310.3,157.07 L308.4,157.06 L306.4,157.05 L304.5,157.04 L302.5,157.03 L300.6,157.02 L298.6,157.02 L296.7,157.02 L294.7,157.02 L292.8,157.02 L290.8,157.02 L288.9,157.02 L286.9,157.02 L285.0,157.02 L283.0,157.02 L281.1,157.02 L279.1,157.02 L277.2,157.02 L275.3,157.02 L273.3,157.02 L271.4,157.02 L269.4,157.02 L267.5,157.02 L265.5,157.02 L263.6,157.02 L261.6,157.02 L259.7,157.02 L257.7,157.02 L255.8,157.02 L253.8,157.02 L251.9,157.02 L249.9,157.02 L248.0,157.02 L246.0,157.02 L244.1,157.02 L242.1,157.02 L240.2,157.02 L238.2,157.01 L236.3,157.01 L234.3,157.01 L232.4,157.01 L230.4,157.01 L228.5,157.01 L226.5,157.01 L224.6,157.01 L222.6,157.01 L220.7,157.01 L218.7,157.01 L216.8,157.01 L214.8,157.01 L212.9,157.01 L210.9,157.01 L209.0,157.01 L207.0,157.01 L205.1,157.01 L203.1,157.01 L201.2,157.01 L199.2,157.01 L197.3,157.01 L195.3,157.01 L193.4,157.01 L191.4,157.01 L189.5,157.01 L187.5,157.01 L185.6,157.01 L183.6,157.01 L181.7,157.01 L179.7,157.01 L177.8,157.01 L175.8,157.01 L173.9,157.01 L171.9,157.01 L170.0,157.01 L168.0,157.01 L166.1,157.01 L164.2,157.01 L162.2,157.01 L160.3,157.01 L158.3,157.01 L156.4,157.01 L154.4,157.01 L152.5,157.01 L150.5,157.01 L148.6,157.01 L146.6,157.01 L144.7,157.01 L142.7,157.01 L140.8,157.01 L138.8,157.01 L136.9,157.01 L134.9,157.01 L133.0,157.01 L131.0,157.01 L129.1,157.01 L127.1,157.01 L125.2,157.01 L123.2,157.01 L121.3,157.01 L119.3,157.01 L117.4,157.01 L115.4,157.00 L113.5,157.00 L111.5,157.00 L109.6,157.00 L107.6,157.00 L105.7,157.00 L103.7,157.00 L101.8,157.00 L99.8,157.00 L97.9,157.00 L95.9,157.00 L94.0,157.00 L92.0,157.00 L90.1,157.00 L88.1,157.00 L86.2,157.00 L84.2,157.00 L82.3,157.00 L80.3,157.00 L78.4,157.00 L76.4,157.00 L74.5,157.00 L72.5,157.00 L70.6,157.00 L68.6,157.00 L66.7,157.00 L64.7,157.00 L62.8,157.00 L60.8,157.00 L58.9,157.00 L56.9,157.00 L55.0,157.00 Z" fill="#e9c2b2" stroke="#dc9f85" stroke-width="0.5"/>
<path d="M55.0,157.00 L56.9,157.00 L58.9,157.01 L60.8,157.01 L62.8,157.02 L64.7,157.02 L66.7,157.03 L68.6,157.03 L70.6,157.03 L72.5,157.04 L74.5,157.04 L76.4,157.05 L78.4,157.05 L80.3,157.06 L82.3,157.06 L84.2,157.06 L86.2,157.07 L88.1,157.07 L90.1,157.08 L92.0,157.08 L94.0,157.09 L95.9,157.09 L97.9,157.09 L99.8,157.10 L101.8,157.10 L103.7,157.11 L105.7,157.11 L107.6,157.12 L109.6,157.12 L111.5,157.12 L113.5,157.13 L115.4,157.13 L117.4,157.14 L119.3,157.14 L121.3,157.15 L123.2,157.15 L125.2,157.15 L127.1,157.16 L129.1,157.16 L131.0,157.17 L133.0,157.17 L134.9,157.18 L136.9,157.18 L138.8,157.18 L140.8,157.19 L142.7,157.19 L144.7,157.20 L146.6,157.20 L148.6,157.21 L150.5,157.21 L152.5,157.21 L154.4,157.22 L156.4,157.22 L158.3,157.23 L160.3,157.23 L162.2,157.23 L164.2,157.24 L166.1,157.24 L168.0,157.25 L170.0,157.25 L171.9,157.26 L173.9,157.26 L175.8,157.26 L177.8,157.27 L179.7,157.27 L181.7,157.28 L183.6,157.28 L185.6,157.29 L187.5,157.29 L189.5,157.29 L191.4,157.30 L193.4,157.30 L195.3,157.31 L197.3,157.31 L199.2,157.32 L201.2,157.32 L203.1,157.32 L205.1,157.33 L207.0,157.33 L209.0,157.34 L210.9,157.34 L212.9,157.35 L214.8,157.35 L216.8,157.35 L218.7,157.36 L220.7,157.36 L222.6,157.37 L224.6,157.37 L226.5,157.38 L228.5,157.38 L230.4,157.38 L232.4,157.39 L234.3,157.39 L236.3,157.40 L238.2,157.40 L240.2,157.41 L242.1,157.41 L244.1,157.41 L246.0,157.42 L248.0,157.42 L249.9,157.43 L251.9,157.43 L253.8,157.44 L255.8,157.44 L257.7,157.44 L259.7,157.45 L261.6,157.45 L263.6,157.46 L265.5,157.46 L267.5,157.47 L269.4,157.47 L271.4,157.47 L273.3,157.48 L275.3,157.48 L277.2,157.49 L279.1,157.49 L281.1,157.50 L283.0,157.50 L285.0,157.50 L286.9,157.51 L288.9,157.51 L290.8,157.52 L292.8,157.52 L294.7,157.53 L296.7,157.53 L298.6,157.53 L300.6,157.54 L302.5,157.54 L304.5,157.55 L306.4,157.55 L308.4,157.56 L310.3,157.56 L312.3,157.56 L314.2,157.57 L316.2,157.57 L318.1,157.58 L320.1,157.58 L322.0,157.59 L324.0,157.59 L325.9,157.59 L327.9,157.60 L329.8,157.60 L331.8,157.61 L333.7,157.61 L335.7,157.62 L337.6,157.62 L339.6,157.62 L341.5,157.63 L343.5,157.63 L345.4,157.64 L347.4,157.64 L349.3,157.65 L351.3,157.65 L353.2,157.65 L355.2,157.66 L357.1,157.66 L359.1,157.67 L361.0,157.67 L363.0,157.67 L364.9,157.68 L366.9,157.68 L368.8,157.69 L370.8,157.69 L372.7,157.70 L374.7,157.70 L376.6,157.70 L378.6,157.71 L380.5,157.71 L382.5,157.72 L384.4,157.72 L386.4,157.73 L388.3,157.73 L390.2,157.73 L392.2,157.74 L394.1,157.74 L396.1,157.75 L398.0,157.75 L400.0,157.76 L401.9,157.76 L403.9,157.76 L405.8,157.77 L407.8,157.77 L409.7,157.78 L411.7,157.78 L413.6,157.79 L415.6,157.79 L417.5,157.79 L419.5,157.80 L421.4,157.83 L423.4,157.88 L425.3,157.92 L427.3,157.97 L429.2,158.02 L431.2,158.06 L433.1,158.11 L435.1,158.15 L437.0,158.20 L439.0,158.24 L440.9,158.29 L442.9,158.33 L444.8,158.38 L446.8,158.42 L448.7,158.47 L450.7,158.52 L452.6,158.56 L454.6,158.61 L456.5,158.65 L458.5,158.70 L460.4,158.74 L462.4,158.79 L464.3,158.83 L466.3,158.88 L468.2,158.92 L470.2,158.97 L472.1,159.02 L474.1,159.06 L476.0,159.11 L478.0,159.15 L479.9,159.20 L481.9,159.25 L483.8,159.31 L485.8,159.36 L487.7,159.42 L489.7,159.47 L491.6,159.52 L493.6,159.58 L495.5,159.63 L497.5,159.69 L499.4,159.74 L501.3,159.80 L503.3,159.85 L505.2,159.90 L507.2,159.96 L509.1,160.01 L511.1,160.07 L513.0,160.12 L515.0,160.18 L516.9,160.23 L518.9,160.29 L520.8,160.34 L522.8,160.39 L524.7,160.45 L526.7,160.50 L528.6,160.56 L530.6,160.61 L532.5,160.67 L534.5,160.72 L536.4,160.78 L538.4,160.91 L540.3,161.10 L542.3,161.29 L544.2,161.49 L546.2,161.68 L548.1,161.87 L550.1,162.06 L552.0,162.26 L554.0,162.45 L555.9,162.64 L557.9,162.83 L559.8,163.03 L561.8,163.22 L563.7,163.41 L565.7,163.61 L567.6,163.80 L569.6,163.99 L571.5,164.18 L573.5,164.38 L575.4,164.57 L577.4,164.76 L579.3,164.95 L581.3,165.15 L583.2,165.34 L585.2,165.53 L587.1,165.73 L589.1,165.92 L591.0,166.11 L593.0,166.30 L594.9,166.50 L596.9,166.69 L598.8,166.88 L600.8,167.17 L602.7,167.62 L604.7,168.07 L606.6,168.52 L608.6,168.97 L610.5,169.41 L612.4,169.86 L614.4,170.31 L616.3,170.76 L618.3,171.21 L620.2,171.66 L622.2,172.10 L624.1,172.55 L626.1,173.00 L628.0,173.45 L630.0,173.90 L631.9,174.35 L633.9,174.79 L635.8,175.24 L637.8,175.69 L639.7,176.14 L641.7,176.59 L643.6,177.04 L645.6,177.48 L647.5,177.93 L649.5,178.38 L651.4,178.83 L653.4,179.28 L655.3,179.73 L657.3,180.17 L659.2,180.62 L661.2,181.07 L663.1,181.52 L665.1,181.97 L667.0,182.42 L669.0,182.86 L670.9,183.31 L672.9,183.76 L674.8,184.21 L676.8,184.66 L678.7,185.11 L680.7,185.55 L682.6,186.00 L684.6,186.45 L686.5,186.90 L688.5,187.35 L690.4,187.80 L692.4,188.24 L694.3,188.69 L696.3,189.14 L698.2,189.59 L700.2,190.06 L702.1,190.84 L704.1,191.62 L706.0,192.40 L708.0,193.18 L709.9,193.96 L711.9,194.74 L713.8,195.52 L715.8,196.30 L717.7,197.08 L719.7,197.86 L721.6,198.64 L723.5,199.42 L725.5,200.20 L727.4,200.98 L729.4,201.76 L731.3,202.54 L733.3,203.32 L735.2,204.10 L737.2,204.88 L739.1,205.66 L741.1,206.44 L743.0,207.22 L745.0,208.00 L746.9,208.78 L748.9,209.56 L750.8,210.33 L752.8,211.11 L754.7,211.89 L756.7,212.67 L758.6,213.45 L760.6,214.23 L762.5,215.01 L764.5,215.79 L766.4,216.57 L768.4,217.35 L770.3,218.13 L772.3,218.91 L774.2,219.69 L776.2,220.47 L778.1,221.25 L780.1,222.03 L782.0,222.74 L784.0,223.46 L785.9,224.18 L787.9,224.90 L789.8,225.61 L791.8,226.33 L793.7,227.05 L795.7,227.77 L797.6,228.48 L799.6,229.20 L801.5,229.92 L803.5,230.64 L805.4,231.35 L807.4,232.07 L809.3,232.79 L811.3,233.51 L813.2,234.22 L815.2,234.94 L817.1,235.66 L819.1,236.38 L821.0,237.09 L823.0,237.81 L824.9,238.53 L826.9,239.25 L828.8,239.96 L830.8,240.68 L832.7,241.40 L832.7,246.25 L830.8,245.54 L828.8,244.83 L826.9,244.11 L824.9,243.40 L823.0,242.69 L821.0,241.98 L819.1,241.27 L817.1,240.55 L815.2,239.84 L813.2,239.13 L811.3,238.42 L809.3,237.71 L807.4,236.99 L805.4,236.28 L803.5,235.57 L801.5,234.86 L799.6,234.15 L797.6,233.43 L795.7,232.72 L793.7,232.01 L791.8,231.30 L789.8,230.59 L787.9,229.87 L785.9,229.16 L784.0,228.45 L782.0,227.74 L780.1,227.03 L778.1,226.27 L776.2,225.52 L774.2,224.76 L772.3,224.01 L770.3,223.25 L768.4,222.50 L766.4,221.74 L764.5,220.99 L762.5,220.23 L760.6,219.48 L758.6,218.72 L756.7,217.97 L754.7,217.21 L752.8,216.45 L750.8,215.70 L748.9,214.94 L746.9,214.19 L745.0,213.43 L743.0,212.68 L741.1,211.92 L739.1,211.17 L737.2,210.41 L735.2,209.66 L733.3,208.90 L731.3,208.15 L729.4,207.39 L727.4,206.64 L725.5,205.88 L723.5,205.13 L721.6,204.37 L719.7,203.61 L717.7,202.86 L715.8,202.10 L713.8,201.35 L711.9,200.59 L709.9,199.84 L708.0,199.08 L706.0,198.33 L704.1,197.57 L702.1,196.82 L700.2,196.06 L698.2,195.57 L696.3,195.10 L694.3,194.63 L692.4,194.17 L690.4,193.70 L688.5,193.23 L686.5,192.76 L684.6,192.30 L682.6,191.83 L680.7,191.36 L678.7,190.89 L676.8,190.42 L674.8,189.96 L672.9,189.49 L670.9,189.02 L669.0,188.55 L667.0,188.09 L665.1,187.62 L663.1,187.15 L661.2,186.68 L659.2,186.21 L657.3,185.75 L655.3,185.28 L653.4,184.81 L651.4,184.34 L649.5,183.88 L647.5,183.41 L645.6,182.94 L643.6,182.47 L641.7,182.00 L639.7,181.54 L637.8,181.07 L635.8,180.60 L633.9,180.13 L631.9,179.67 L630.0,179.20 L628.0,178.73 L626.1,178.26 L624.1,177.79 L622.2,177.33 L620.2,176.86 L618.3,176.39 L616.3,175.92 L614.4,175.46 L612.4,174.99 L610.5,174.52 L608.6,174.05 L606.6,173.58 L604.7,173.12 L602.7,172.65 L600.8,172.18 L598.8,171.83 L596.9,171.55 L594.9,171.27 L593.0,170.99 L591.0,170.71 L589.1,170.43 L587.1,170.15 L585.2,169.87 L583.2,169.59 L581.3,169.31 L579.3,169.03 L577.4,168.75 L575.4,168.47 L573.5,168.19 L571.5,167.91 L569.6,167.63 L567.6,167.35 L565.7,167.07 L563.7,166.79 L561.8,166.51 L559.8,166.23 L557.9,165.95 L555.9,165.67 L554.0,165.39 L552.0,165.11 L550.1,164.83 L548.1,164.55 L546.2,164.27 L544.2,163.99 L542.3,163.71 L540.3,163.44 L538.4,163.16 L536.4,162.96 L534.5,162.88 L532.5,162.79 L530.6,162.71 L528.6,162.62 L526.7,162.54 L524.7,162.45 L522.8,162.37 L520.8,162.28 L518.9,162.20 L516.9,162.11 L515.0,162.03 L513.0,161.94 L511.1,161.86 L509.1,161.77 L507.2,161.69 L505.2,161.60 L503.3,161.52 L501.3,161.43 L499.4,161.35 L497.5,161.26 L495.5,161.18 L493.6,161.09 L491.6,161.01 L489.7,160.92 L487.7,160.84 L485.8,160.75 L483.8,160.67 L481.9,160.58 L479.9,160.50 L478.0,160.43 L476.0,160.35 L474.1,160.28 L472.1,160.21 L470.2,160.14 L468.2,160.07 L466.3,160.00 L464.3,159.92 L462.4,159.85 L460.4,159.78 L458.5,159.71 L456.5,159.64 L454.6,159.57 L452.6,159.50 L450.7,159.42 L448.7,159.35 L446.8,159.28 L444.8,159.21 L442.9,159.14 L440.9,159.07 L439.0,159.00 L437.0,158.92 L435.1,158.85 L433.1,158.78 L431.2,158.71 L429.2,158.64 L427.3,158.57 L425.3,158.50 L423.4,158.42 L421.4,158.35 L419.5,158.29 L417.5,158.23 L415.6,158.18 L413.6,158.13 L411.7,158.07 L409.7,158.02 L407.8,157.96 L405.8,157.91 L403.9,157.86 L401.9,157.80 L400.0,157.75 L398.0,157.70 L396.1,157.64 L394.1,157.59 L392.2,157.54 L390.2,157.48 L388.3,157.43 L386.4,157.37 L384.4,157.32 L382.5,157.27 L380.5,157.21 L378.6,157.20 L376.6,157.20 L374.7,157.20 L372.7,157.20 L370.8,157.19 L368.8,157.19 L366.9,157.19 L364.9,157.19 L363.0,157.19 L361.0,157.19 L359.1,157.19 L357.1,157.19 L355.2,157.18 L353.2,157.18 L351.3,157.18 L349.3,157.18 L347.4,157.18 L345.4,157.18 L343.5,157.18 L341.5,157.18 L339.6,157.18 L337.6,157.17 L335.7,157.17 L333.7,157.17 L331.8,157.17 L329.8,157.17 L327.9,157.17 L325.9,157.17 L324.0,157.17 L322.0,157.16 L320.1,157.16 L318.1,157.16 L316.2,157.16 L314.2,157.16 L312.3,157.16 L310.3,157.16 L308.4,157.16 L306.4,157.15 L304.5,157.15 L302.5,157.15 L300.6,157.15 L298.6,157.15 L296.7,157.15 L294.7,157.15 L292.8,157.15 L290.8,157.15 L288.9,157.14 L286.9,157.14 L285.0,157.14 L283.0,157.14 L281.1,157.14 L279.1,157.14 L277.2,157.14 L275.3,157.14 L273.3,157.13 L271.4,157.13 L269.4,157.13 L267.5,157.13 L265.5,157.13 L263.6,157.13 L261.6,157.13 L259.7,157.13 L257.7,157.12 L255.8,157.12 L253.8,157.12 L251.9,157.12 L249.9,157.12 L248.0,157.12 L246.0,157.12 L244.1,157.12 L242.1,157.12 L240.2,157.11 L238.2,157.11 L236.3,157.11 L234.3,157.11 L232.4,157.11 L230.4,157.11 L228.5,157.11 L226.5,157.11 L224.6,157.10 L222.6,157.10 L220.7,157.10 L218.7,157.10 L216.8,157.10 L214.8,157.10 L212.9,157.10 L210.9,157.10 L209.0,157.09 L207.0,157.09 L205.1,157.09 L203.1,157.09 L201.2,157.09 L199.2,157.09 L197.3,157.09 L195.3,157.09 L193.4,157.09 L191.4,157.08 L189.5,157.08 L187.5,157.08 L185.6,157.08 L183.6,157.08 L181.7,157.08 L179.7,157.08 L177.8,157.08 L175.8,157.07 L173.9,157.07 L171.9,157.07 L170.0,157.07 L168.0,157.07 L166.1,157.07 L164.2,157.07 L162.2,157.07 L160.3,157.06 L158.3,157.06 L156.4,157.06 L154.4,157.06 L152.5,157.06 L150.5,157.06 L148.6,157.06 L146.6,157.06 L144.7,157.06 L142.7,157.05 L140.8,157.05 L138.8,157.05 L136.9,157.05 L134.9,157.05 L133.0,157.05 L131.0,157.05 L129.1,157.05 L127.1,157.04 L125.2,157.04 L123.2,157.04 L121.3,157.04 L119.3,157.04 L117.4,157.04 L115.4,157.04 L113.5,157.04 L111.5,157.03 L109.6,157.03 L107.6,157.03 L105.7,157.03 L103.7,157.03 L101.8,157.03 L99.8,157.03 L97.9,157.03 L95.9,157.03 L94.0,157.02 L92.0,157.02 L90.1,157.02 L88.1,157.02 L86.2,157.02 L84.2,157.02 L82.3,157.02 L80.3,157.02 L78.4,157.01 L76.4,157.01 L74.5,157.01 L72.5,157.01 L70.6,157.01 L68.6,157.01 L66.7,157.01 L64.7,157.01 L62.8,157.00 L60.8,157.00 L58.9,157.00 L56.9,157.00 L55.0,157.00 Z" fill="#ead1b6" stroke="#deb68c" stroke-width="0.5"/>
<path d="M55.0,157.00 L56.9,157.00 L58.9,157.01 L60.8,157.01 L62.8,157.01 L64.7,157.01 L66.7,157.02 L68.6,157.02 L70.6,157.02 L72.5,157.02 L74.5,157.03 L76.4,157.03 L78.4,157.03 L80.3,157.03 L82.3,157.04 L84.2,157.04 L86.2,157.04 L88.1,157.05 L90.1,157.05 L92.0,157.05 L94.0,157.05 L95.9,157.06 L97.9,157.06 L99.8,157.06 L101.8,157.06 L103.7,157.07 L105.7,157.07 L107.6,157.07 L109.6,157.07 L111.5,157.08 L113.5,157.08 L115.4,157.08 L117.4,157.09 L119.3,157.09 L121.3,157.09 L123.2,157.09 L125.2,157.10 L127.1,157.10 L129.1,157.10 L131.0,157.10 L133.0,157.11 L134.9,157.11 L136.9,157.11 L138.8,157.11 L140.8,157.12 L142.7,157.12 L144.7,157.12 L146.6,157.13 L148.6,157.13 L150.5,157.13 L152.5,157.13 L154.4,157.14 L156.4,157.14 L158.3,157.14 L160.3,157.14 L162.2,157.15 L164.2,157.15 L166.1,157.15 L168.0,157.15 L170.0,157.16 L171.9,157.16 L173.9,157.16 L175.8,157.17 L177.8,157.17 L179.7,157.17 L181.7,157.17 L183.6,157.18 L185.6,157.18 L187.5,157.18 L189.5,157.18 L191.4,157.19 L193.4,157.19 L195.3,157.19 L197.3,157.19 L199.2,157.20 L201.2,157.20 L203.1,157.20 L205.1,157.21 L207.0,157.21 L209.0,157.21 L210.9,157.21 L212.9,157.22 L214.8,157.22 L216.8,157.22 L218.7,157.22 L220.7,157.23 L222.6,157.23 L224.6,157.23 L226.5,157.23 L228.5,157.24 L230.4,157.24 L232.4,157.24 L234.3,157.25 L236.3,157.25 L238.2,157.25 L240.2,157.25 L242.1,157.26 L244.1,157.26 L246.0,157.26 L248.0,157.26 L249.9,157.27 L251.9,157.27 L253.8,157.27 L255.8,157.28 L257.7,157.28 L259.7,157.28 L261.6,157.28 L263.6,157.29 L265.5,157.29 L267.5,157.29 L269.4,157.29 L271.4,157.30 L273.3,157.30 L275.3,157.30 L277.2,157.30 L279.1,157.31 L281.1,157.31 L283.0,157.31 L285.0,157.32 L286.9,157.32 L288.9,157.32 L290.8,157.32 L292.8,157.33 L294.7,157.33 L296.7,157.33 L298.6,157.33 L300.6,157.34 L302.5,157.34 L304.5,157.34 L306.4,157.34 L308.4,157.35 L310.3,157.35 L312.3,157.35 L314.2,157.36 L316.2,157.36 L318.1,157.36 L320.1,157.36 L322.0,157.37 L324.0,157.37 L325.9,157.37 L327.9,157.37 L329.8,157.38 L331.8,157.38 L333.7,157.38 L335.7,157.38 L337.6,157.39 L339.6,157.39 L341.5,157.39 L343.5,157.40 L345.4,157.40 L347.4,157.40 L349.3,157.40 L351.3,157.41 L353.2,157.41 L355.2,157.41 L357.1,157.41 L359.1,157.42 L361.0,157.42 L363.0,157.42 L364.9,157.42 L366.9,157.43 L368.8,157.43 L370.8,157.43 L372.7,157.44 L374.7,157.44 L376.6,157.44 L378.6,157.44 L380.5,157.45 L382.5,157.45 L384.4,157.45 L386.4,157.45 L388.3,157.46 L390.2,157.46 L392.2,157.46 L394.1,157.46 L396.1,157.47 L398.0,157.47 L400.0,157.47 L401.9,157.48 L403.9,157.48 L405.8,157.48 L407.8,157.48 L409.7,157.49 L411.7,157.49 L413.6,157.49 L415.6,157.49 L417.5,157.50 L419.5,157.50 L421.4,157.52 L423.4,157.55 L425.3,157.58 L427.3,157.61 L429.2,157.64 L431.2,157.67 L433.1,157.70 L435.1,157.73 L437.0,157.76 L439.0,157.78 L440.9,157.81 L442.9,157.84 L444.8,157.87 L446.8,157.90 L448.7,157.93 L450.7,157.96 L452.6,157.99 L454.6,158.02 L456.5,158.05 L458.5,158.08 L460.4,158.11 L462.4,158.14 L464.3,158.16 L466.3,158.19 L468.2,158.22 L470.2,158.25 L472.1,158.28 L474.1,158.31 L476.0,158.34 L478.0,158.37 L479.9,158.40 L481.9,158.44 L483.8,158.48 L485.8,158.52 L487.7,158.56 L489.7,158.60 L491.6,158.64 L493.6,158.68 L495.5,158.72 L497.5,158.77 L499.4,158.81 L501.3,158.85 L503.3,158.89 L505.2,158.93 L507.2,158.97 L509.1,159.01 L511.1,159.05 L513.0,159.09 L515.0,159.13 L516.9,159.17 L518.9,159.21 L520.8,159.26 L522.8,159.30 L524.7,159.34 L526.7,159.38 L528.6,159.42 L530.6,159.46 L532.5,159.50 L534.5,159.54 L536.4,159.58 L538.4,159.68 L540.3,159.81 L542.3,159.95 L544.2,160.09 L546.2,160.22 L548.1,160.36 L550.1,160.50 L552.0,160.63 L554.0,160.77 L555.9,160.91 L557.9,161.04 L559.8,161.18 L561.8,161.32 L563.7,161.45 L565.7,161.59 L567.6,161.73 L569.6,161.86 L571.5,162.00 L573.5,162.14 L575.4,162.27 L577.4,162.41 L579.3,162.55 L581.3,162.69 L583.2,162.82 L585.2,162.96 L587.1,163.10 L589.1,163.23 L591.0,163.37 L593.0,163.51 L594.9,163.64 L596.9,163.78 L598.8,163.92 L600.8,164.14 L602.7,164.49 L604.7,164.84 L606.6,165.19 L608.6,165.54 L610.5,165.89 L612.4,166.24 L614.4,166.59 L616.3,166.94 L618.3,167.29 L620.2,167.64 L622.2,168.00 L624.1,168.35 L626.1,168.70 L628.0,169.05 L630.0,169.40 L631.9,169.75 L633.9,170.10 L635.8,170.45 L637.8,170.80 L639.7,171.15 L641.7,171.50 L643.6,171.85 L645.6,172.21 L647.5,172.56 L649.5,172.91 L651.4,173.26 L653.4,173.61 L655.3,173.96 L657.3,174.31 L659.2,174.66 L661.2,175.01 L663.1,175.36 L665.1,175.71 L667.0,176.06 L669.0,176.42 L670.9,176.77 L672.9,177.12 L674.8,177.47 L676.8,177.82 L678.7,178.17 L680.7,178.52 L682.6,178.87 L684.6,179.22 L686.5,179.57 L688.5,179.92 L690.4,180.27 L692.4,180.63 L694.3,180.98 L696.3,181.33 L698.2,181.68 L700.2,182.06 L702.1,182.79 L704.1,183.52 L706.0,184.25 L708.0,184.98 L709.9,185.71 L711.9,186.45 L713.8,187.18 L715.8,187.91 L717.7,188.64 L719.7,189.37 L721.6,190.10 L723.5,190.83 L725.5,191.56 L727.4,192.29 L729.4,193.02 L731.3,193.75 L733.3,194.49 L735.2,195.22 L737.2,195.95 L739.1,196.68 L741.1,197.41 L743.0,198.14 L745.0,198.87 L746.9,199.60 L748.9,200.33 L750.8,201.06 L752.8,201.79 L754.7,202.53 L756.7,203.26 L758.6,203.99 L760.6,204.72 L762.5,205.45 L764.5,206.18 L766.4,206.91 L768.4,207.64 L770.3,208.37 L772.3,209.10 L774.2,209.83 L776.2,210.57 L778.1,211.30 L780.1,212.03 L782.0,212.69 L784.0,213.36 L785.9,214.02 L787.9,214.69 L789.8,215.35 L791.8,216.02 L793.7,216.69 L795.7,217.35 L797.6,218.02 L799.6,218.68 L801.5,219.35 L803.5,220.01 L805.4,220.68 L807.4,221.35 L809.3,222.01 L811.3,222.68 L813.2,223.34 L815.2,224.01 L817.1,224.67 L819.1,225.34 L821.0,226.01 L823.0,226.67 L824.9,227.34 L826.9,228.00 L828.8,228.67 L830.8,229.33 L832.7,230.00 L832.7,241.40 L830.8,240.68 L828.8,239.96 L826.9,239.25 L824.9,238.53 L823.0,237.81 L821.0,237.09 L819.1,236.38 L817.1,235.66 L815.2,234.94 L813.2,234.22 L811.3,233.51 L809.3,232.79 L807.4,232.07 L805.4,231.35 L803.5,230.64 L801.5,229.92 L799.6,229.20 L797.6,228.48 L795.7,227.77 L793.7,227.05 L791.8,226.33 L789.8,225.61 L787.9,224.90 L785.9,224.18 L784.0,223.46 L782.0,222.74 L780.1,222.03 L778.1,221.25 L776.2,220.47 L774.2,219.69 L772.3,218.91 L770.3,218.13 L768.4,217.35 L766.4,216.57 L764.5,215.79 L762.5,215.01 L760.6,214.23 L758.6,213.45 L756.7,212.67 L754.7,211.89 L752.8,211.11 L750.8,210.33 L748.9,209.56 L746.9,208.78 L745.0,208.00 L743.0,207.22 L741.1,206.44 L739.1,205.66 L737.2,204.88 L735.2,204.10 L733.3,203.32 L731.3,202.54 L729.4,201.76 L727.4,200.98 L725.5,200.20 L723.5,199.42 L721.6,198.64 L719.7,197.86 L717.7,197.08 L715.8,196.30 L713.8,195.52 L711.9,194.74 L709.9,193.96 L708.0,193.18 L706.0,192.40 L704.1,191.62 L702.1,190.84 L700.2,190.06 L698.2,189.59 L696.3,189.14 L694.3,188.69 L692.4,188.24 L690.4,187.80 L688.5,187.35 L686.5,186.90 L684.6,186.45 L682.6,186.00 L680.7,185.55 L678.7,185.11 L676.8,184.66 L674.8,184.21 L672.9,183.76 L670.9,183.31 L669.0,182.86 L667.0,182.42 L665.1,181.97 L663.1,181.52 L661.2,181.07 L659.2,180.62 L657.3,180.17 L655.3,179.73 L653.4,179.28 L651.4,178.83 L649.5,178.38 L647.5,177.93 L645.6,177.48 L643.6,177.04 L641.7,176.59 L639.7,176.14 L637.8,175.69 L635.8,175.24 L633.9,174.79 L631.9,174.35 L630.0,173.90 L628.0,173.45 L626.1,173.00 L624.1,172.55 L622.2,172.10 L620.2,171.66 L618.3,171.21 L616.3,170.76 L614.4,170.31 L612.4,169.86 L610.5,169.41 L608.6,168.97 L606.6,168.52 L604.7,168.07 L602.7,167.62 L600.8,167.17 L598.8,166.88 L596.9,166.69 L594.9,166.50 L593.0,166.30 L591.0,166.11 L589.1,165.92 L587.1,165.73 L585.2,165.53 L583.2,165.34 L581.3,165.15 L579.3,164.95 L577.4,164.76 L575.4,164.57 L573.5,164.38 L571.5,164.18 L569.6,163.99 L567.6,163.80 L565.7,163.61 L563.7,163.41 L561.8,163.22 L559.8,163.03 L557.9,162.83 L555.9,162.64 L554.0,162.45 L552.0,162.26 L550.1,162.06 L548.1,161.87 L546.2,161.68 L544.2,161.49 L542.3,161.29 L540.3,161.10 L538.4,160.91 L536.4,160.78 L534.5,160.72 L532.5,160.67 L530.6,160.61 L528.6,160.56 L526.7,160.50 L524.7,160.45 L522.8,160.39 L520.8,160.34 L518.9,160.29 L516.9,160.23 L515.0,160.18 L513.0,160.12 L511.1,160.07 L509.1,160.01 L507.2,159.96 L505.2,159.90 L503.3,159.85 L501.3,159.80 L499.4,159.74 L497.5,159.69 L495.5,159.63 L493.6,159.58 L491.6,159.52 L489.7,159.47 L487.7,159.42 L485.8,159.36 L483.8,159.31 L481.9,159.25 L479.9,159.20 L478.0,159.15 L476.0,159.11 L474.1,159.06 L472.1,159.02 L470.2,158.97 L468.2,158.92 L466.3,158.88 L464.3,158.83 L462.4,158.79 L460.4,158.74 L458.5,158.70 L456.5,158.65 L454.6,158.61 L452.6,158.56 L450.7,158.52 L448.7,158.47 L446.8,158.42 L444.8,158.38 L442.9,158.33 L440.9,158.29 L439.0,158.24 L437.0,158.20 L435.1,158.15 L433.1,158.11 L431.2,158.06 L429.2,158.02 L427.3,157.97 L425.3,157.92 L423.4,157.88 L421.4,157.83 L419.5,157.80 L417.5,157.79 L415.6,157.79 L413.6,157.79 L411.7,157.78 L409.7,157.78 L407.8,157.77 L405.8,157.77 L403.9,157.76 L401.9,157.76 L400.0,157.76 L398.0,157.75 L396.1,157.75 L394.1,157.74 L392.2,157.74 L390.2,157.73 L388.3,157.73 L386.4,157.73 L384.4,157.72 L382.5,157.72 L380.5,157.71 L378.6,157.71 L376.6,157.70 L374.7,157.70 L372.7,157.70 L370.8,157.69 L368.8,157.69 L366.9,157.68 L364.9,157.68 L363.0,157.67 L361.0,157.67 L359.1,157.67 L357.1,157.66 L355.2,157.66 L353.2,157.65 L351.3,157.65 L349.3,157.65 L347.4,157.64 L345.4,157.64 L343.5,157.63 L341.5,157.63 L339.6,157.62 L337.6,157.62 L335.7,157.62 L333.7,157.61 L331.8,157.61 L329.8,157.60 L327.9,157.60 L325.9,157.59 L324.0,157.59 L322.0,157.59 L320.1,157.58 L318.1,157.58 L316.2,157.57 L314.2,157.57 L312.3,157.56 L310.3,157.56 L308.4,157.56 L306.4,157.55 L304.5,157.55 L302.5,157.54 L300.6,157.54 L298.6,157.53 L296.7,157.53 L294.7,157.53 L292.8,157.52 L290.8,157.52 L288.9,157.51 L286.9,157.51 L285.0,157.50 L283.0,157.50 L281.1,157.50 L279.1,157.49 L277.2,157.49 L275.3,157.48 L273.3,157.48 L271.4,157.47 L269.4,157.47 L267.5,157.47 L265.5,157.46 L263.6,157.46 L261.6,157.45 L259.7,157.45 L257.7,157.44 L255.8,157.44 L253.8,157.44 L251.9,157.43 L249.9,157.43 L248.0,157.42 L246.0,157.42 L244.1,157.41 L242.1,157.41 L240.2,157.41 L238.2,157.40 L236.3,157.40 L234.3,157.39 L232.4,157.39 L230.4,157.38 L228.5,157.38 L226.5,157.38 L224.6,157.37 L222.6,157.37 L220.7,157.36 L218.7,157.36 L216.8,157.35 L214.8,157.35 L212.9,157.35 L210.9,157.34 L209.0,157.34 L207.0,157.33 L205.1,157.33 L203.1,157.32 L201.2,157.32 L199.2,157.32 L197.3,157.31 L195.3,157.31 L193.4,157.30 L191.4,157.30 L189.5,157.29 L187.5,157.29 L185.6,157.29 L183.6,157.28 L181.7,157.28 L179.7,157.27 L177.8,157.27 L175.8,157.26 L173.9,157.26 L171.9,157.26 L170.0,157.25 L168.0,157.25 L166.1,157.24 L164.2,157.24 L162.2,157.23 L160.3,157.23 L158.3,157.23 L156.4,157.22 L154.4,157.22 L152.5,157.21 L150.5,157.21 L148.6,157.21 L146.6,157.20 L144.7,157.20 L142.7,157.19 L140.8,157.19 L138.8,157.18 L136.9,157.18 L134.9,157.18 L133.0,157.17 L131.0,157.17 L129.1,157.16 L127.1,157.16 L125.2,157.15 L123.2,157.15 L121.3,157.15 L119.3,157.14 L117.4,157.14 L115.4,157.13 L113.5,157.13 L111.5,157.12 L109.6,157.12 L107.6,157.12 L105.7,157.11 L103.7,157.11 L101.8,157.10 L99.8,157.10 L97.9,157.09 L95.9,157.09 L94.0,157.09 L92.0,157.08 L90.1,157.08 L88.1,157.07 L86.2,157.07 L84.2,157.06 L82.3,157.06 L80.3,157.06 L78.4,157.05 L76.4,157.05 L74.5,157.04 L72.5,157.04 L70.6,157.03 L68.6,157.03 L66.7,157.03 L64.7,157.02 L62.8,157.02 L60.8,157.01 L58.9,157.01 L56.9,157.00 L55.0,157.00 Z" fill="#ddb0c6" stroke="#c983a6" stroke-width="0.5"/>
<path d="M55.0,157.00 L56.9,157.00 L58.9,157.00 L60.8,157.00 L62.8,157.01 L64.7,157.01 L66.7,157.01 L68.6,157.01 L70.6,157.01 L72.5,157.01 L74.5,157.02 L76.4,157.02 L78.4,157.02 L80.3,157.02 L82.3,157.02 L84.2,157.02 L86.2,157.03 L88.1,157.03 L90.1,157.03 L92.0,157.03 L94.0,157.03 L95.9,157.03 L97.9,157.04 L99.8,157.04 L101.8,157.04 L103.7,157.04 L105.7,157.04 L107.6,157.04 L109.6,157.04 L111.5,157.05 L113.5,157.05 L115.4,157.05 L117.4,157.05 L119.3,157.05 L121.3,157.05 L123.2,157.06 L125.2,157.06 L127.1,157.06 L129.1,157.06 L131.0,157.06 L133.0,157.06 L134.9,157.07 L136.9,157.07 L138.8,157.07 L140.8,157.07 L142.7,157.07 L144.7,157.07 L146.6,157.08 L148.6,157.08 L150.5,157.08 L152.5,157.08 L154.4,157.08 L156.4,157.08 L158.3,157.08 L160.3,157.09 L162.2,157.09 L164.2,157.09 L166.1,157.09 L168.0,157.09 L170.0,157.09 L171.9,157.10 L173.9,157.10 L175.8,157.10 L177.8,157.10 L179.7,157.10 L181.7,157.10 L183.6,157.11 L185.6,157.11 L187.5,157.11 L189.5,157.11 L191.4,157.11 L193.4,157.11 L195.3,157.12 L197.3,157.12 L199.2,157.12 L201.2,157.12 L203.1,157.12 L205.1,157.12 L207.0,157.12 L209.0,157.13 L210.9,157.13 L212.9,157.13 L214.8,157.13 L216.8,157.13 L218.7,157.13 L220.7,157.14 L222.6,157.14 L224.6,157.14 L226.5,157.14 L228.5,157.14 L230.4,157.14 L232.4,157.15 L234.3,157.15 L236.3,157.15 L238.2,157.15 L240.2,157.15 L242.1,157.15 L244.1,157.16 L246.0,157.16 L248.0,157.16 L249.9,157.16 L251.9,157.16 L253.8,157.16 L255.8,157.17 L257.7,157.17 L259.7,157.17 L261.6,157.17 L263.6,157.17 L265.5,157.17 L267.5,157.17 L269.4,157.18 L271.4,157.18 L273.3,157.18 L275.3,157.18 L277.2,157.18 L279.1,157.18 L281.1,157.19 L283.0,157.19 L285.0,157.19 L286.9,157.19 L288.9,157.19 L290.8,157.19 L292.8,157.20 L294.7,157.20 L296.7,157.20 L298.6,157.20 L300.6,157.20 L302.5,157.20 L304.5,157.21 L306.4,157.21 L308.4,157.21 L310.3,157.21 L312.3,157.21 L314.2,157.21 L316.2,157.21 L318.1,157.22 L320.1,157.22 L322.0,157.22 L324.0,157.22 L325.9,157.22 L327.9,157.22 L329.8,157.23 L331.8,157.23 L333.7,157.23 L335.7,157.23 L337.6,157.23 L339.6,157.23 L341.5,157.24 L343.5,157.24 L345.4,157.24 L347.4,157.24 L349.3,157.24 L351.3,157.24 L353.2,157.25 L355.2,157.25 L357.1,157.25 L359.1,157.25 L361.0,157.25 L363.0,157.25 L364.9,157.25 L366.9,157.26 L368.8,157.26 L370.8,157.26 L372.7,157.26 L374.7,157.26 L376.6,157.26 L378.6,157.27 L380.5,157.27 L382.5,157.27 L384.4,157.27 L386.4,157.27 L388.3,157.27 L390.2,157.28 L392.2,157.28 L394.1,157.28 L396.1,157.28 L398.0,157.28 L400.0,157.28 L401.9,157.29 L403.9,157.29 L405.8,157.29 L407.8,157.29 L409.7,157.29 L411.7,157.29 L413.6,157.29 L415.6,157.30 L417.5,157.30 L419.5,157.30 L421.4,157.31 L423.4,157.33 L425.3,157.35 L427.3,157.37 L429.2,157.39 L431.2,157.41 L433.1,157.43 L435.1,157.45 L437.0,157.47 L439.0,157.49 L440.9,157.51 L442.9,157.53 L444.8,157.55 L446.8,157.57 L448.7,157.59 L450.7,157.61 L452.6,157.63 L454.6,157.65 L456.5,157.67 L458.5,157.68 L460.4,157.70 L462.4,157.72 L464.3,157.74 L466.3,157.76 L468.2,157.78 L470.2,157.80 L472.1,157.82 L474.1,157.84 L476.0,157.86 L478.0,157.88 L479.9,157.90 L481.9,157.92 L483.8,157.95 L485.8,157.97 L487.7,157.99 L489.7,158.02 L491.6,158.04 L493.6,158.07 L495.5,158.09 L497.5,158.11 L499.4,158.14 L501.3,158.16 L503.3,158.18 L505.2,158.21 L507.2,158.23 L509.1,158.26 L511.1,158.28 L513.0,158.30 L515.0,158.33 L516.9,158.35 L518.9,158.38 L520.8,158.40 L522.8,158.42 L524.7,158.45 L526.7,158.47 L528.6,158.49 L530.6,158.52 L532.5,158.54 L534.5,158.57 L536.4,158.59 L538.4,158.64 L540.3,158.72 L542.3,158.79 L544.2,158.87 L546.2,158.94 L548.1,159.01 L550.1,159.09 L552.0,159.16 L554.0,159.24 L555.9,159.31 L557.9,159.39 L559.8,159.46 L561.8,159.54 L563.7,159.61 L565.7,159.69 L567.6,159.76 L569.6,159.84 L571.5,159.91 L573.5,159.98 L575.4,160.06 L577.4,160.13 L579.3,160.21 L581.3,160.28 L583.2,160.36 L585.2,160.43 L587.1,160.51 L589.1,160.58 L591.0,160.66 L593.0,160.73 L594.9,160.81 L596.9,160.88 L598.8,160.95 L600.8,161.08 L602.7,161.30 L604.7,161.51 L606.6,161.73 L608.6,161.94 L610.5,162.16 L612.4,162.37 L614.4,162.58 L616.3,162.80 L618.3,163.01 L620.2,163.23 L622.2,163.44 L624.1,163.66 L626.1,163.87 L628.0,164.08 L630.0,164.30 L631.9,164.51 L633.9,164.73 L635.8,164.94 L637.8,165.16 L639.7,165.37 L641.7,165.59 L643.6,165.80 L645.6,166.01 L647.5,166.23 L649.5,166.44 L651.4,166.66 L653.4,166.87 L655.3,167.09 L657.3,167.30 L659.2,167.52 L661.2,167.73 L663.1,167.94 L665.1,168.16 L667.0,168.37 L669.0,168.59 L670.9,168.80 L672.9,169.02 L674.8,169.23 L676.8,169.44 L678.7,169.66 L680.7,169.87 L682.6,170.09 L684.6,170.30 L686.5,170.52 L688.5,170.73 L690.4,170.95 L692.4,171.16 L694.3,171.37 L696.3,171.59 L698.2,171.80 L700.2,172.05 L702.1,172.61 L704.1,173.17 L706.0,173.73 L708.0,174.29 L709.9,174.85 L711.9,175.41 L713.8,175.97 L715.8,176.53 L717.7,177.09 L719.7,177.65 L721.6,178.21 L723.5,178.77 L725.5,179.33 L727.4,179.89 L729.4,180.45 L731.3,181.01 L733.3,181.57 L735.2,182.13 L737.2,182.69 L739.1,183.25 L741.1,183.81 L743.0,184.37 L745.0,184.93 L746.9,185.49 L748.9,186.06 L750.8,186.62 L752.8,187.18 L754.7,187.74 L756.7,188.30 L758.6,188.86 L760.6,189.42 L762.5,189.98 L764.5,190.54 L766.4,191.10 L768.4,191.66 L770.3,192.22 L772.3,192.78 L774.2,193.34 L776.2,193.90 L778.1,194.46 L780.1,195.03 L782.0,195.81 L784.0,196.59 L785.9,197.37 L787.9,198.15 L789.8,198.93 L791.8,199.71 L793.7,200.49 L795.7,201.27 L797.6,202.05 L799.6,202.83 L801.5,203.61 L803.5,204.39 L805.4,205.17 L807.4,205.95 L809.3,206.74 L811.3,207.52 L813.2,208.30 L815.2,209.08 L817.1,209.86 L819.1,210.64 L821.0,211.42 L823.0,212.20 L824.9,212.98 L826.9,213.76 L828.8,214.54 L830.8,215.32 L832.7,216.10 L832.7,230.00 L830.8,229.33 L828.8,228.67 L826.9,228.00 L824.9,227.34 L823.0,226.67 L821.0,226.01 L819.1,225.34 L817.1,224.67 L815.2,224.01 L813.2,223.34 L811.3,222.68 L809.3,222.01 L807.4,221.35 L805.4,220.68 L803.5,220.01 L801.5,219.35 L799.6,218.68 L797.6,218.02 L795.7,217.35 L793.7,216.69 L791.8,216.02 L789.8,215.35 L787.9,214.69 L785.9,214.02 L784.0,213.36 L782.0,212.69 L780.1,212.03 L778.1,211.30 L776.2,210.57 L774.2,209.83 L772.3,209.10 L770.3,208.37 L768.4,207.64 L766.4,206.91 L764.5,206.18 L762.5,205.45 L760.6,204.72 L758.6,203.99 L756.7,203.26 L754.7,202.53 L752.8,201.79 L750.8,201.06 L748.9,200.33 L746.9,199.60 L745.0,198.87 L743.0,198.14 L741.1,197.41 L739.1,196.68 L737.2,195.95 L735.2,195.22 L733.3,194.49 L731.3,193.75 L729.4,193.02 L727.4,192.29 L725.5,191.56 L723.5,190.83 L721.6,190.10 L719.7,189.37 L717.7,188.64 L715.8,187.91 L713.8,187.18 L711.9,186.45 L709.9,185.71 L708.0,184.98 L706.0,184.25 L704.1,183.52 L702.1,182.79 L700.2,182.06 L698.2,181.68 L696.3,181.33 L694.3,180.98 L692.4,180.63 L690.4,180.27 L688.5,179.92 L686.5,179.57 L684.6,179.22 L682.6,178.87 L680.7,178.52 L678.7,178.17 L676.8,177.82 L674.8,177.47 L672.9,177.12 L670.9,176.77 L669.0,176.42 L667.0,176.06 L665.1,175.71 L663.1,175.36 L661.2,175.01 L659.2,174.66 L657.3,174.31 L655.3,173.96 L653.4,173.61 L651.4,173.26 L649.5,172.91 L647.5,172.56 L645.6,172.21 L643.6,171.85 L641.7,171.50 L639.7,171.15 L637.8,170.80 L635.8,170.45 L633.9,170.10 L631.9,169.75 L630.0,169.40 L628.0,169.05 L626.1,168.70 L624.1,168.35 L622.2,168.00 L620.2,167.64 L618.3,167.29 L616.3,166.94 L614.4,166.59 L612.4,166.24 L610.5,165.89 L608.6,165.54 L606.6,165.19 L604.7,164.84 L602.7,164.49 L600.8,164.14 L598.8,163.92 L596.9,163.78 L594.9,163.64 L593.0,163.51 L591.0,163.37 L589.1,163.23 L587.1,163.10 L585.2,162.96 L583.2,162.82 L581.3,162.69 L579.3,162.55 L577.4,162.41 L575.4,162.27 L573.5,162.14 L571.5,162.00 L569.6,161.86 L567.6,161.73 L565.7,161.59 L563.7,161.45 L561.8,161.32 L559.8,161.18 L557.9,161.04 L555.9,160.91 L554.0,160.77 L552.0,160.63 L550.1,160.50 L548.1,160.36 L546.2,160.22 L544.2,160.09 L542.3,159.95 L540.3,159.81 L538.4,159.68 L536.4,159.58 L534.5,159.54 L532.5,159.50 L530.6,159.46 L528.6,159.42 L526.7,159.38 L524.7,159.34 L522.8,159.30 L520.8,159.26 L518.9,159.21 L516.9,159.17 L515.0,159.13 L513.0,159.09 L511.1,159.05 L509.1,159.01 L507.2,158.97 L505.2,158.93 L503.3,158.89 L501.3,158.85 L499.4,158.81 L497.5,158.77 L495.5,158.72 L493.6,158.68 L491.6,158.64 L489.7,158.60 L487.7,158.56 L485.8,158.52 L483.8,158.48 L481.9,158.44 L479.9,158.40 L478.0,158.37 L476.0,158.34 L474.1,158.31 L472.1,158.28 L470.2,158.25 L468.2,158.22 L466.3,158.19 L464.3,158.16 L462.4,158.14 L460.4,158.11 L458.5,158.08 L456.5,158.05 L454.6,158.02 L452.6,157.99 L450.7,157.96 L448.7,157.93 L446.8,157.90 L444.8,157.87 L442.9,157.84 L440.9,157.81 L439.0,157.78 L437.0,157.76 L435.1,157.73 L433.1,157.70 L431.2,157.67 L429.2,157.64 L427.3,157.61 L425.3,157.58 L423.4,157.55 L421.4,157.52 L419.5,157.50 L417.5,157.50 L415.6,157.49 L413.6,157.49 L411.7,157.49 L409.7,157.49 L407.8,157.48 L405.8,157.48 L403.9,157.48 L401.9,157.48 L400.0,157.47 L398.0,157.47 L396.1,157.47 L394.1,157.46 L392.2,157.46 L390.2,157.46 L388.3,157.46 L386.4,157.45 L384.4,157.45 L382.5,157.45 L380.5,157.45 L378.6,157.44 L376.6,157.44 L374.7,157.44 L372.7,157.44 L370.8,157.43 L368.8,157.43 L366.9,157.43 L364.9,157.42 L363.0,157.42 L361.0,157.42 L359.1,157.42 L357.1,157.41 L355.2,157.41 L353.2,157.41 L351.3,157.41 L349.3,157.40 L347.4,157.40 L345.4,157.40 L343.5,157.40 L341.5,157.39 L339.6,157.39 L337.6,157.39 L335.7,157.38 L333.7,157.38 L331.8,157.38 L329.8,157.38 L327.9,157.37 L325.9,157.37 L324.0,157.37 L322.0,157.37 L320.1,157.36 L318.1,157.36 L316.2,157.36 L314.2,157.36 L312.3,157.35 L310.3,157.35 L308.4,157.35 L306.4,157.34 L304.5,157.34 L302.5,157.34 L300.6,157.34 L298.6,157.33 L296.7,157.33 L294.7,157.33 L292.8,157.33 L290.8,157.32 L288.9,157.32 L286.9,157.32 L285.0,157.32 L283.0,157.31 L281.1,157.31 L279.1,157.31 L277.2,157.30 L275.3,157.30 L273.3,157.30 L271.4,157.30 L269.4,157.29 L267.5,157.29 L265.5,157.29 L263.6,157.29 L261.6,157.28 L259.7,157.28 L257.7,157.28 L255.8,157.28 L253.8,157.27 L251.9,157.27 L249.9,157.27 L248.0,157.26 L246.0,157.26 L244.1,157.26 L242.1,157.26 L240.2,157.25 L238.2,157.25 L236.3,157.25 L234.3,157.25 L232.4,157.24 L230.4,157.24 L228.5,157.24 L226.5,157.23 L224.6,157.23 L222.6,157.23 L220.7,157.23 L218.7,157.22 L216.8,157.22 L214.8,157.22 L212.9,157.22 L210.9,157.21 L209.0,157.21 L207.0,157.21 L205.1,157.21 L203.1,157.20 L201.2,157.20 L199.2,157.20 L197.3,157.19 L195.3,157.19 L193.4,157.19 L191.4,157.19 L189.5,157.18 L187.5,157.18 L185.6,157.18 L183.6,157.18 L181.7,157.17 L179.7,157.17 L177.8,157.17 L175.8,157.17 L173.9,157.16 L171.9,157.16 L170.0,157.16 L168.0,157.15 L166.1,157.15 L164.2,157.15 L162.2,157.15 L160.3,157.14 L158.3,157.14 L156.4,157.14 L154.4,157.14 L152.5,157.13 L150.5,157.13 L148.6,157.13 L146.6,157.13 L144.7,157.12 L142.7,157.12 L140.8,157.12 L138.8,157.11 L136.9,157.11 L134.9,157.11 L133.0,157.11 L131.0,157.10 L129.1,157.10 L127.1,157.10 L125.2,157.10 L123.2,157.09 L121.3,157.09 L119.3,157.09 L117.4,157.09 L115.4,157.08 L113.5,157.08 L111.5,157.08 L109.6,157.07 L107.6,157.07 L105.7,157.07 L103.7,157.07 L101.8,157.06 L99.8,157.06 L97.9,157.06 L95.9,157.06 L94.0,157.05 L92.0,157.05 L90.1,157.05 L88.1,157.05 L86.2,157.04 L84.2,157.04 L82.3,157.04 L80.3,157.03 L78.4,157.03 L76.4,157.03 L74.5,157.03 L72.5,157.02 L70.6,157.02 L68.6,157.02 L66.7,157.02 L64.7,157.01 L62.8,157.01 L60.8,157.01 L58.9,157.01 L56.9,157.00 L55.0,157.00 Z" fill="#f3c5cb" stroke="#eca3ad" stroke-width="0.5"/>
<path d="M55.0,157.00 L56.9,157.00 L58.9,157.00 L60.8,157.00 L62.8,157.00 L64.7,157.00 L66.7,157.00 L68.6,157.00 L70.6,157.00 L72.5,157.00 L74.5,157.00 L76.4,157.00 L78.4,157.00 L80.3,157.00 L82.3,157.00 L84.2,157.00 L86.2,157.00 L88.1,157.00 L90.1,157.00 L92.0,157.00 L94.0,157.00 L95.9,157.00 L97.9,157.00 L99.8,157.00 L101.8,157.00 L103.7,157.00 L105.7,157.00 L107.6,157.00 L109.6,157.00 L111.5,157.00 L113.5,157.00 L115.4,157.00 L117.4,157.00 L119.3,157.00 L121.3,157.00 L123.2,157.00 L125.2,157.00 L127.1,157.00 L129.1,157.00 L131.0,157.00 L133.0,157.00 L134.9,157.00 L136.9,157.00 L138.8,157.00 L140.8,157.00 L142.7,157.00 L144.7,157.00 L146.6,157.00 L148.6,157.00 L150.5,157.00 L152.5,157.00 L154.4,157.00 L156.4,157.00 L158.3,157.00 L160.3,157.00 L162.2,157.00 L164.2,157.00 L166.1,157.00 L168.0,157.00 L170.0,157.00 L171.9,157.00 L173.9,157.00 L175.8,157.00 L177.8,157.00 L179.7,157.00 L181.7,157.00 L183.6,157.00 L185.6,157.00 L187.5,157.00 L189.5,157.00 L191.4,157.00 L193.4,157.00 L195.3,157.00 L197.3,157.00 L199.2,157.00 L201.2,157.00 L203.1,157.00 L205.1,157.00 L207.0,157.00 L209.0,157.00 L210.9,157.00 L212.9,157.00 L214.8,157.00 L216.8,157.00 L218.7,157.00 L220.7,157.00 L222.6,157.00 L224.6,157.00 L226.5,157.00 L228.5,157.00 L230.4,157.00 L232.4,157.00 L234.3,157.00 L236.3,157.00 L238.2,157.00 L240.2,157.00 L242.1,157.00 L244.1,157.00 L246.0,157.00 L248.0,157.00 L249.9,157.00 L251.9,157.00 L253.8,157.00 L255.8,157.00 L257.7,157.00 L259.7,157.00 L261.6,157.00 L263.6,157.00 L265.5,157.00 L267.5,157.00 L269.4,157.00 L271.4,157.00 L273.3,157.00 L275.3,157.00 L277.2,157.00 L279.1,157.00 L281.1,157.00 L283.0,157.00 L285.0,157.00 L286.9,157.00 L288.9,157.00 L290.8,157.00 L292.8,157.00 L294.7,157.00 L296.7,157.00 L298.6,157.00 L300.6,157.00 L302.5,157.00 L304.5,157.00 L306.4,157.00 L308.4,157.00 L310.3,157.00 L312.3,157.00 L314.2,157.00 L316.2,157.00 L318.1,157.00 L320.1,157.00 L322.0,157.00 L324.0,157.00 L325.9,157.00 L327.9,157.00 L329.8,157.00 L331.8,157.00 L333.7,157.00 L335.7,157.00 L337.6,157.00 L339.6,157.00 L341.5,157.00 L343.5,157.00 L345.4,157.00 L347.4,157.00 L349.3,157.00 L351.3,157.00 L353.2,157.00 L355.2,157.00 L357.1,157.00 L359.1,157.00 L361.0,157.00 L363.0,157.00 L364.9,157.00 L366.9,157.00 L368.8,157.00 L370.8,157.00 L372.7,157.00 L374.7,157.00 L376.6,157.00 L378.6,157.00 L380.5,157.00 L382.5,157.00 L384.4,157.00 L386.4,157.00 L388.3,157.00 L390.2,157.00 L392.2,157.00 L394.1,157.00 L396.1,157.00 L398.0,157.00 L400.0,157.00 L401.9,157.00 L403.9,157.00 L405.8,157.00 L407.8,157.00 L409.7,157.00 L411.7,157.00 L413.6,157.00 L415.6,157.00 L417.5,157.00 L419.5,157.00 L421.4,157.00 L423.4,157.00 L425.3,157.00 L427.3,157.00 L429.2,157.00 L431.2,157.00 L433.1,157.00 L435.1,157.00 L437.0,157.00 L439.0,157.00 L440.9,157.00 L442.9,157.00 L444.8,157.00 L446.8,157.00 L448.7,157.00 L450.7,157.00 L452.6,157.00 L454.6,157.00 L456.5,157.00 L458.5,157.00 L460.4,157.00 L462.4,157.00 L464.3,157.00 L466.3,157.00 L468.2,157.00 L470.2,157.00 L472.1,157.00 L474.1,157.00 L476.0,157.00 L478.0,157.00 L479.9,157.00 L481.9,157.00 L483.8,157.00 L485.8,157.00 L487.7,157.00 L489.7,157.00 L491.6,157.00 L493.6,157.00 L495.5,157.00 L497.5,157.00 L499.4,157.00 L501.3,157.00 L503.3,157.00 L505.2,157.00 L507.2,157.00 L509.1,157.00 L511.1,157.00 L513.0,157.00 L515.0,157.00 L516.9,157.00 L518.9,157.00 L520.8,157.00 L522.8,157.00 L524.7,157.00 L526.7,157.00 L528.6,157.00 L530.6,157.00 L532.5,157.00 L534.5,157.00 L536.4,157.00 L538.4,157.00 L540.3,157.00 L542.3,157.00 L544.2,157.00 L546.2,157.00 L548.1,157.00 L550.1,157.00 L552.0,157.00 L554.0,157.00 L555.9,157.00 L557.9,157.00 L559.8,157.00 L561.8,157.00 L563.7,157.00 L565.7,157.00 L567.6,157.00 L569.6,157.00 L571.5,157.00 L573.5,157.00 L575.4,157.00 L577.4,157.00 L579.3,157.00 L581.3,157.00 L583.2,157.00 L585.2,157.00 L587.1,157.00 L589.1,157.00 L591.0,157.00 L593.0,157.00 L594.9,157.00 L596.9,157.00 L598.8,157.00 L600.8,157.00 L602.7,157.00 L604.7,157.00 L606.6,157.00 L608.6,157.00 L610.5,157.00 L612.4,157.00 L614.4,157.00 L616.3,157.00 L618.3,157.00 L620.2,157.00 L622.2,157.00 L624.1,157.00 L626.1,157.00 L628.0,157.00 L630.0,157.00 L631.9,157.00 L633.9,157.00 L635.8,157.00 L637.8,157.00 L639.7,157.00 L641.7,157.00 L643.6,157.00 L645.6,157.00 L647.5,157.00 L649.5,157.00 L651.4,157.00 L653.4,157.00 L655.3,157.00 L657.3,157.00 L659.2,157.00 L661.2,157.00 L663.1,157.00 L665.1,157.00 L667.0,157.00 L669.0,157.00 L670.9,157.00 L672.9,157.00 L674.8,157.00 L676.8,157.00 L678.7,157.00 L680.7,157.00 L682.6,157.00 L684.6,157.00 L686.5,157.00 L688.5,157.00 L690.4,157.00 L692.4,157.00 L694.3,157.00 L696.3,157.00 L698.2,157.00 L700.2,157.00 L702.1,157.00 L704.1,157.00 L706.0,157.00 L708.0,157.00 L709.9,157.00 L711.9,157.00 L713.8,157.00 L715.8,157.00 L717.7,157.00 L719.7,157.00 L721.6,157.00 L723.5,157.00 L725.5,157.00 L727.4,157.00 L729.4,157.00 L731.3,157.00 L733.3,157.00 L735.2,157.00 L737.2,157.00 L739.1,157.00 L741.1,157.00 L743.0,157.00 L745.0,157.00 L746.9,157.00 L748.9,157.00 L750.8,157.00 L752.8,157.00 L754.7,157.00 L756.7,157.00 L758.6,157.00 L760.6,157.00 L762.5,157.00 L764.5,157.00 L766.4,157.00 L768.4,157.00 L770.3,157.00 L772.3,157.00 L774.2,157.00 L776.2,157.00 L778.1,157.00 L780.1,157.00 L782.0,157.00 L784.0,157.00 L785.9,157.00 L787.9,157.00 L789.8,157.00 L791.8,157.00 L793.7,157.00 L795.7,157.00 L797.6,157.00 L799.6,157.00 L801.5,157.00 L803.5,157.00 L805.4,157.00 L807.4,157.00 L809.3,157.00 L811.3,157.00 L813.2,157.00 L815.2,157.00 L817.1,157.00 L819.1,157.00 L821.0,157.00 L823.0,157.00 L824.9,157.00 L826.9,157.00 L828.8,157.00 L830.8,157.00 L832.7,157.00 L832.7,216.10 L830.8,215.32 L828.8,214.54 L826.9,213.76 L824.9,212.98 L823.0,212.20 L821.0,211.42 L819.1,210.64 L817.1,209.86 L815.2,209.08 L813.2,208.30 L811.3,207.52 L809.3,206.74 L807.4,205.95 L805.4,205.17 L803.5,204.39 L801.5,203.61 L799.6,202.83 L797.6,202.05 L795.7,201.27 L793.7,200.49 L791.8,199.71 L789.8,198.93 L787.9,198.15 L785.9,197.37 L784.0,196.59 L782.0,195.81 L780.1,195.03 L778.1,194.46 L776.2,193.90 L774.2,193.34 L772.3,192.78 L770.3,192.22 L768.4,191.66 L766.4,191.10 L764.5,190.54 L762.5,189.98 L760.6,189.42 L758.6,188.86 L756.7,188.30 L754.7,187.74 L752.8,187.18 L750.8,186.62 L748.9,186.06 L746.9,185.49 L745.0,184.93 L743.0,184.37 L741.1,183.81 L739.1,183.25 L737.2,182.69 L735.2,182.13 L733.3,181.57 L731.3,181.01 L729.4,180.45 L727.4,179.89 L725.5,179.33 L723.5,178.77 L721.6,178.21 L719.7,177.65 L717.7,177.09 L715.8,176.53 L713.8,175.97 L711.9,175.41 L709.9,174.85 L708.0,174.29 L706.0,173.73 L704.1,173.17 L702.1,172.61 L700.2,172.05 L698.2,171.80 L696.3,171.59 L694.3,171.37 L692.4,171.16 L690.4,170.95 L688.5,170.73 L686.5,170.52 L684.6,170.30 L682.6,170.09 L680.7,169.87 L678.7,169.66 L676.8,169.44 L674.8,169.23 L672.9,169.02 L670.9,168.80 L669.0,168.59 L667.0,168.37 L665.1,168.16 L663.1,167.94 L661.2,167.73 L659.2,167.52 L657.3,167.30 L655.3,167.09 L653.4,166.87 L651.4,166.66 L649.5,166.44 L647.5,166.23 L645.6,166.01 L643.6,165.80 L641.7,165.59 L639.7,165.37 L637.8,165.16 L635.8,164.94 L633.9,164.73 L631.9,164.51 L630.0,164.30 L628.0,164.08 L626.1,163.87 L624.1,163.66 L622.2,163.44 L620.2,163.23 L618.3,163.01 L616.3,162.80 L614.4,162.58 L612.4,162.37 L610.5,162.16 L608.6,161.94 L606.6,161.73 L604.7,161.51 L602.7,161.30 L600.8,161.08 L598.8,160.95 L596.9,160.88 L594.9,160.81 L593.0,160.73 L591.0,160.66 L589.1,160.58 L587.1,160.51 L585.2,160.43 L583.2,160.36 L581.3,160.28 L579.3,160.21 L577.4,160.13 L575.4,160.06 L573.5,159.98 L571.5,159.91 L569.6,159.84 L567.6,159.76 L565.7,159.69 L563.7,159.61 L561.8,159.54 L559.8,159.46 L557.9,159.39 L555.9,159.31 L554.0,159.24 L552.0,159.16 L550.1,159.09 L548.1,159.01 L546.2,158.94 L544.2,158.87 L542.3,158.79 L540.3,158.72 L538.4,158.64 L536.4,158.59 L534.5,158.57 L532.5,158.54 L530.6,158.52 L528.6,158.49 L526.7,158.47 L524.7,158.45 L522.8,158.42 L520.8,158.40 L518.9,158.38 L516.9,158.35 L515.0,158.33 L513.0,158.30 L511.1,158.28 L509.1,158.26 L507.2,158.23 L505.2,158.21 L503.3,158.18 L501.3,158.16 L499.4,158.14 L497.5,158.11 L495.5,158.09 L493.6,158.07 L491.6,158.04 L489.7,158.02 L487.7,157.99 L485.8,157.97 L483.8,157.95 L481.9,157.92 L479.9,157.90 L478.0,157.88 L476.0,157.86 L474.1,157.84 L472.1,157.82 L470.2,157.80 L468.2,157.78 L466.3,157.76 L464.3,157.74 L462.4,157.72 L460.4,157.70 L458.5,157.68 L456.5,157.67 L454.6,157.65 L452.6,157.63 L450.7,157.61 L448.7,157.59 L446.8,157.57 L444.8,157.55 L442.9,157.53 L440.9,157.51 L439.0,157.49 L437.0,157.47 L435.1,157.45 L433.1,157.43 L431.2,157.41 L429.2,157.39 L427.3,157.37 L425.3,157.35 L423.4,157.33 L421.4,157.31 L419.5,157.30 L417.5,157.30 L415.6,157.30 L413.6,157.29 L411.7,157.29 L409.7,157.29 L407.8,157.29 L405.8,157.29 L403.9,157.29 L401.9,157.29 L400.0,157.28 L398.0,157.28 L396.1,157.28 L394.1,157.28 L392.2,157.28 L390.2,157.28 L388.3,157.27 L386.4,157.27 L384.4,157.27 L382.5,157.27 L380.5,157.27 L378.6,157.27 L376.6,157.26 L374.7,157.26 L372.7,157.26 L370.8,157.26 L368.8,157.26 L366.9,157.26 L364.9,157.25 L363.0,157.25 L361.0,157.25 L359.1,157.25 L357.1,157.25 L355.2,157.25 L353.2,157.25 L351.3,157.24 L349.3,157.24 L347.4,157.24 L345.4,157.24 L343.5,157.24 L341.5,157.24 L339.6,157.23 L337.6,157.23 L335.7,157.23 L333.7,157.23 L331.8,157.23 L329.8,157.23 L327.9,157.22 L325.9,157.22 L324.0,157.22 L322.0,157.22 L320.1,157.22 L318.1,157.22 L316.2,157.21 L314.2,157.21 L312.3,157.21 L310.3,157.21 L308.4,157.21 L306.4,157.21 L304.5,157.21 L302.5,157.20 L300.6,157.20 L298.6,157.20 L296.7,157.20 L294.7,157.20 L292.8,157.20 L290.8,157.19 L288.9,157.19 L286.9,157.19 L285.0,157.19 L283.0,157.19 L281.1,157.19 L279.1,157.18 L277.2,157.18 L275.3,157.18 L273.3,157.18 L271.4,157.18 L269.4,157.18 L267.5,157.17 L265.5,157.17 L263.6,157.17 L261.6,157.17 L259.7,157.17 L257.7,157.17 L255.8,157.17 L253.8,157.16 L251.9,157.16 L249.9,157.16 L248.0,157.16 L246.0,157.16 L244.1,157.16 L242.1,157.15 L240.2,157.15 L238.2,157.15 L236.3,157.15 L234.3,157.15 L232.4,157.15 L230.4,157.14 L228.5,157.14 L226.5,157.14 L224.6,157.14 L222.6,157.14 L220.7,157.14 L218.7,157.13 L216.8,157.13 L214.8,157.13 L212.9,157.13 L210.9,157.13 L209.0,157.13 L207.0,157.12 L205.1,157.12 L203.1,157.12 L201.2,157.12 L199.2,157.12 L197.3,157.12 L195.3,157.12 L193.4,157.11 L191.4,157.11 L189.5,157.11 L187.5,157.11 L185.6,157.11 L183.6,157.11 L181.7,157.10 L179.7,157.10 L177.8,157.10 L175.8,157.10 L173.9,157.10 L171.9,157.10 L170.0,157.09 L168.0,157.09 L166.1,157.09 L164.2,157.09 L162.2,157.09 L160.3,157.09 L158.3,157.08 L156.4,157.08 L154.4,157.08 L152.5,157.08 L150.5,157.08 L148.6,157.08 L146.6,157.08 L144.7,157.07 L142.7,157.07 L140.8,157.07 L138.8,157.07 L136.9,157.07 L134.9,157.07 L133.0,157.06 L131.0,157.06 L129.1,157.06 L127.1,157.06 L125.2,157.06 L123.2,157.06 L121.3,157.05 L119.3,157.05 L117.4,157.05 L115.4,157.05 L113.5,157.05 L111.5,157.05 L109.6,157.04 L107.6,157.04 L105.7,157.04 L103.7,157.04 L101.8,157.04 L99.8,157.04 L97.9,157.04 L95.9,157.03 L94.0,157.03 L92.0,157.03 L90.1,157.03 L88.1,157.03 L86.2,157.03 L84.2,157.02 L82.3,157.02 L80.3,157.02 L78.4,157.02 L76.4,157.02 L74.5,157.02 L72.5,157.01 L70.6,157.01 L68.6,157.01 L66.7,157.01 L64.7,157.01 L62.8,157.01 L60.8,157.00 L58.9,157.00 L56.9,157.00 L55.0,157.00 Z" fill="#afbcd0" stroke="#8196b4" stroke-width="0.5"/>
<g stroke="#999" stroke-opacity="0.32" stroke-dasharray="5,3" stroke-width="1">
 <line x1="55" y1="232.5" x2="832.7" y2="232.5"/>
 <line x1="55" y1="307.5" x2="832.7" y2="307.5"/>
 <line x1="55" y1="382.5" x2="832.7" y2="382.5"/>
 <line x1="55" y1="457.5" x2="832.7" y2="457.5"/>
</g>
<line x1="55" y1="157" x2="832.7" y2="157" stroke="#16325c" stroke-width="2"/>
<line x1="831.5" y1="157" x2="831.5" y2="215" stroke="#16325c" stroke-width="2.6"/>
<line x1="55" y1="532.5" x2="833.2" y2="532.5" stroke="#8e8e8e" stroke-width="1"/>
<g stroke="#8e8e8e" stroke-width="1">
 <line x1="55.5" y1="532" x2="55.5" y2="538"/><line x1="196.9" y1="532" x2="196.9" y2="538"/>
 <line x1="338.8" y1="532" x2="338.8" y2="538"/><line x1="480.7" y1="532" x2="480.7" y2="538"/>
 <line x1="622.6" y1="532" x2="622.6" y2="538"/><line x1="764.5" y1="532" x2="764.5" y2="538"/>
 <line x1="832.7" y1="532" x2="832.7" y2="538"/>
</g>
<circle cx="832.8" cy="479.6" r="2.4" fill="#5c739c"/>
<circle cx="832.8" cy="416.9" r="2.4" fill="#b59a65"/>
<circle cx="832.8" cy="326.5" r="2.4" fill="#8e5975"/>
<circle cx="832.8" cy="269.5" r="2.4" fill="#8a454f"/>
<circle cx="832.8" cy="256.0" r="2.4" fill="#61885a"/>
<circle cx="832.8" cy="246.2" r="2.4" fill="#a6502c"/>
<circle cx="832.8" cy="241.4" r="2.4" fill="#aa7135"/>
<circle cx="832.8" cy="230.0" r="2.4" fill="#8c285a"/>
<circle cx="832.8" cy="216.1" r="2.4" fill="#be5665"/>
<circle cx="832.8" cy="157.0" r="2.4" fill="#26446e"/>
<circle cx="832.8" cy="157.3" r="2.6" fill="#16325c"/>
<!-- connectors -->
<path d="M838,223 H847 V196 H858 M838,235.7 H851 V217.5 H858 M838,243.8 H851 V238.5 H858 M838,251.1 H851 V260.5 H858 M838,262.7 H847 V281.5 H858 M838,298 H847 V319.5 H858 M838,371.7 H848 V372.5 H858 M838,448.2 H848 V448.5 H858 M838,505.8 H848 V506.5 H858" fill="none" stroke="#eeeeee" stroke-width="1"/>
<path d="M838.2,186.8 H842.1 V174.3 H858" fill="none" stroke="#c4c4c4" stroke-width="1.2"/>
</svg>
<div class="abs ylab" style="top:148.5px">100%</div>
<div class="abs ylab" style="top:223.5px">80%</div>
<div class="abs ylab" style="top:298.5px">60%</div>
<div class="abs ylab" style="top:373.5px">40%</div>
<div class="abs ylab" style="top:448.5px">20%</div>
<div class="abs ylab" style="top:523.5px">0%</div>
<div class="abs xlab" style="left:55px;top:540px;text-align:left">1750</div>
<div class="abs xlab" style="left:167.3px;top:540px">1800</div>
<div class="abs xlab" style="left:309.2px;top:540px">1850</div>
<div class="abs xlab" style="left:451.1px;top:540px">1900</div>
<div class="abs xlab" style="left:593.0px;top:540px">1950</div>
<div class="abs xlab" style="left:734.9px;top:540px">2000</div>
<div class="abs xlab" style="left:773px;top:540px;text-align:right">2024</div>

<!-- legend -->
<div class="abs lg" style="top:167px;color:#1d3d63">China</div>
<div class="abs lg" style="top:188.2px;color:#e3a9b8">India</div>
<div class="abs lg" style="top:210.2px;color:#cd9bb5">Africa</div>
<div class="abs lg" style="top:230.5px;color:#dbc09f">Oceania</div>
<div class="abs lg" style="top:252.7px;color:#dcaa9c">South America</div>
<div class="abs lg" style="top:273.9px;color:#b9c6b8">North America (excl.<br>USA)</div>
<div class="abs lg" style="top:311.5px;color:#d4aebb">Asia (excl. China and<br>India)</div>
<div class="abs lg" style="top:365.1px;color:#c9b1bd">United States</div>
<div class="abs lg" style="top:441.1px;color:#d3cdb2">European Union (27)</div>
<div class="abs lg" style="top:499.1px;color:#b7bccb">Europe (excl. EU-27)</div>

<!-- tooltip -->
<div class="abs" id="tip">
 <div id="tiphead"></div>
 <div class="abs" style="left:16.6px;top:10.5px;font-size:18px;font-weight:700;color:#000;line-height:18px">2024</div>
 <div class="sw" style="top:47px;background:#2d5086"></div><div class="nm" style="top:50px">China<i></i></div><div class="vl" style="top:50px">15.8%</div>
 <div class="sw" style="top:72px;background:#e06677"></div><div class="nm" style="top:75px">India<i></i></div><div class="vl" style="top:75px">3.7%</div>
 <div class="sw" style="top:97px;background:#a5306a"></div><div class="nm" style="top:100px">Africa<i></i></div><div class="vl" style="top:100px">3.0%</div>
 <div class="sw" style="top:122px;background:#c8863f"></div><div class="nm" style="top:125px">Oceania<i></i></div><div class="vl" style="top:125px">1.3%</div>
 <div class="sw" style="top:147px;background:#c45f34"></div><div class="nm" style="top:150px">South America<i></i></div><div class="vl" style="top:150px">2.6%</div>
 <div class="sw" style="top:172px;background:#73a06b"></div><div class="nm" style="top:175px">North America<i> (excl. USA)</i></div><div class="vl" style="top:175px">3.6%</div>
 <div class="sw" style="top:197px;background:#a3525e"></div><div class="nm" style="top:200px">Asia<i> (excl. China and India)</i></div><div class="vl" style="top:200px">15.2%</div>
 <div class="sw" style="top:222px;background:#a8698a"></div><div class="nm" style="top:225px">United States<i></i></div><div class="vl" style="top:225px">24.1%</div>
 <div class="sw" style="top:247px;background:#d6b677"></div><div class="nm" style="top:250px">European Union<i> (27)</i></div><div class="vl" style="top:250px">16.7%</div>
 <div class="sw" style="top:272px;background:#6d88b8"></div><div class="nm" style="top:275px">Europe<i> (excl. EU-27)</i></div><div class="vl" style="top:275px">14.0%</div>
</div>

<!-- timeline -->
<div class="abs box" style="left:10px;top:566px;width:39px;height:40px"></div>
<svg class="abs" style="left:0;top:560px" width="1020" height="54">
 <path d="M24.7,21.2 L34.5,26.4 L24.7,31.8 Z" fill="#555" stroke="#555" stroke-width="1.7" stroke-linejoin="round"/>
 <rect x="155" y="25" width="761" height="3" fill="#a3b3c7"/>
 <circle cx="142.4" cy="26.4" r="10.6" fill="#a0a0a0"/>
 <circle cx="928.6" cy="26.4" r="10.6" fill="#a0a0a0"/>
</svg>
<div class="abs box" style="left:60px;top:566px;width:57px;height:40px"></div>
<div class="abs" style="left:60px;top:578px;width:57px;text-align:center;font-size:16.6px;line-height:16px;color:#5b5b5b">1750</div>
<div class="abs box" style="left:954px;top:566px;width:56.5px;height:40px"></div>
<div class="abs" style="left:954px;top:578px;width:56.5px;text-align:center;font-size:16.6px;line-height:16px;color:#5b5b5b">2024</div>
</body></html>
